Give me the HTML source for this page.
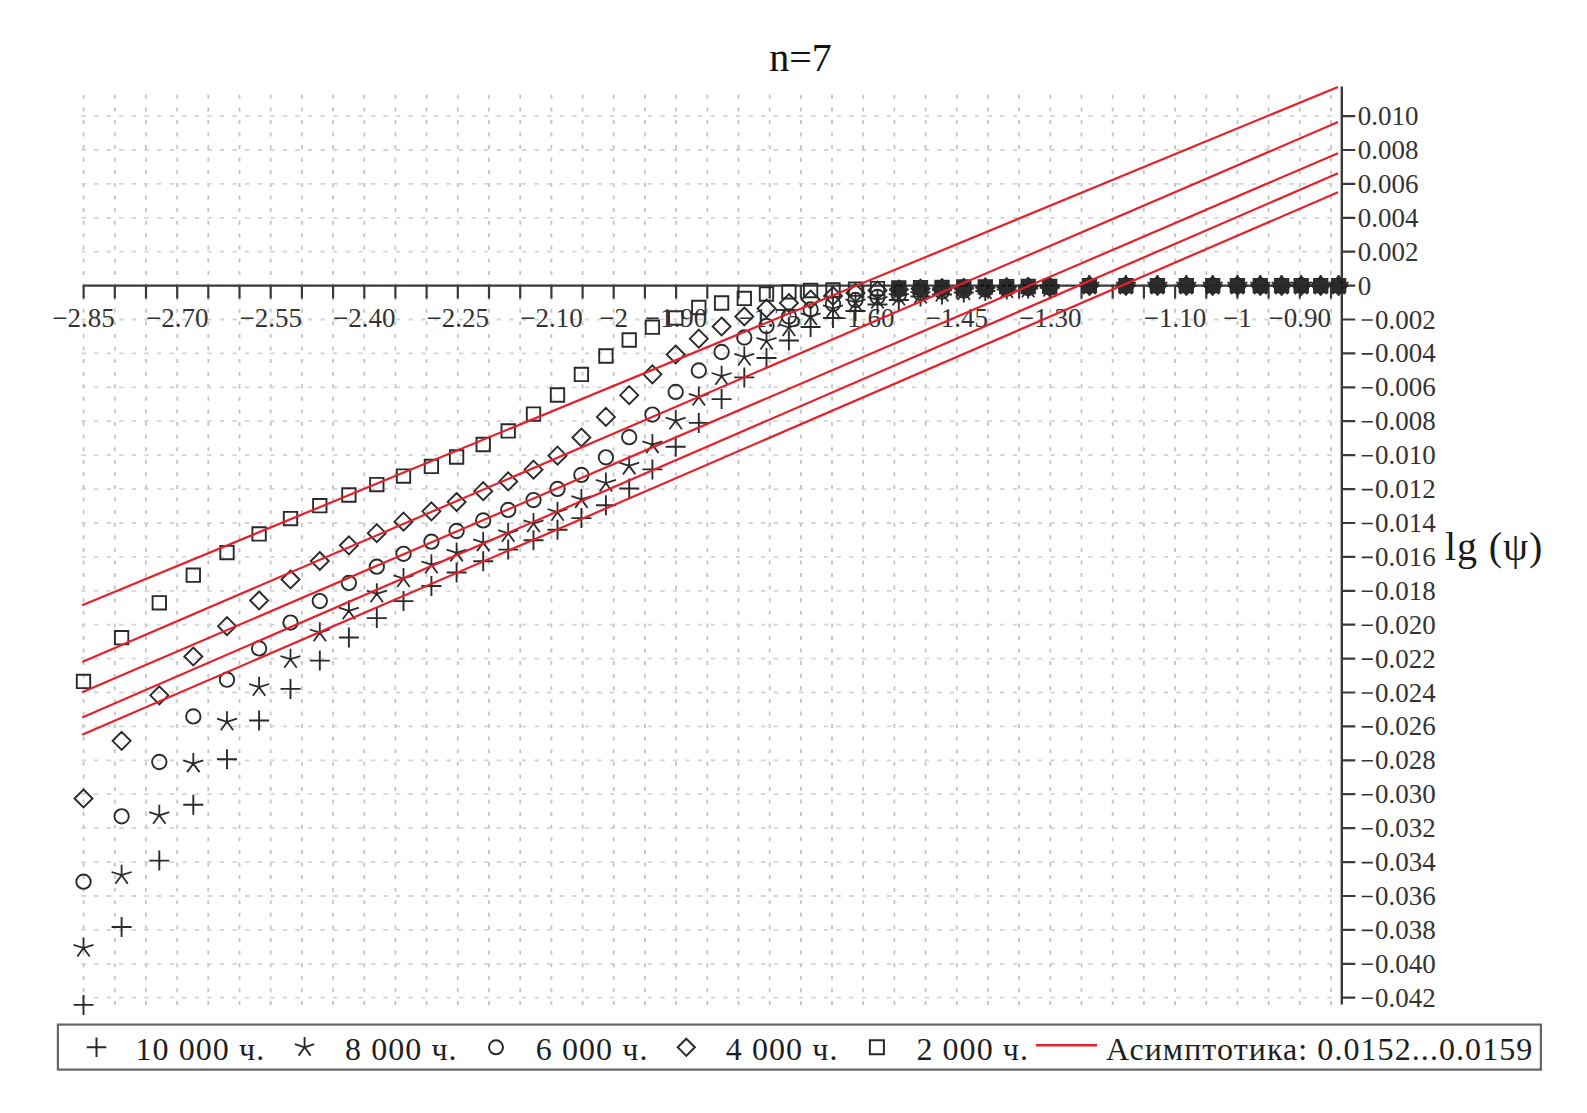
<!DOCTYPE html><html><head><meta charset="utf-8"><style>html,body{margin:0;padding:0;background:#fff;}svg{display:block;}text{font-family:"Liberation Serif",serif;}</style></head><body>
<svg width="1587" height="1113" viewBox="0 0 1587 1113">
<path d="M83.6 94.8v4M83.6 107.4v4M83.6 120.0v4M83.6 132.6v4M83.6 145.1v4M83.6 157.7v4M83.6 170.3v4M83.6 182.9v4M83.6 195.5v4M83.6 208.1v4M83.6 220.7v4M83.6 233.2v4M83.6 245.8v4M83.6 258.4v4M83.6 271.0v4M83.6 283.6v4M83.6 296.2v4M83.6 308.7v4M83.6 321.3v4M83.6 333.9v4M83.6 346.5v4M83.6 359.1v4M83.6 371.7v4M83.6 384.3v4M83.6 396.8v4M83.6 409.4v4M83.6 422.0v4M83.6 434.6v4M83.6 447.2v4M83.6 459.8v4M83.6 472.3v4M83.6 484.9v4M83.6 497.5v4M83.6 510.1v4M83.6 522.7v4M83.6 535.3v4M83.6 547.9v4M83.6 560.4v4M83.6 573.0v4M83.6 585.6v4M83.6 598.2v4M83.6 610.8v4M83.6 623.4v4M83.6 636.0v4M83.6 648.5v4M83.6 661.1v4M83.6 673.7v4M83.6 686.3v4M83.6 698.9v4M83.6 711.5v4M83.6 724.1v4M83.6 736.6v4M83.6 749.2v4M83.6 761.8v4M83.6 774.4v4M83.6 787.0v4M83.6 799.6v4M83.6 812.1v4M83.6 824.7v4M83.6 837.3v4M83.6 849.9v4M83.6 862.5v4M83.6 875.1v4M83.6 887.7v4M83.6 900.2v4M83.6 912.8v4M83.6 925.4v4M83.6 938.0v4M83.6 950.6v4M83.6 963.2v4M83.6 975.8v4M83.6 988.3v4M83.6 1000.9v4M114.8 94.8v4M114.8 107.4v4M114.8 120.0v4M114.8 132.6v4M114.8 145.1v4M114.8 157.7v4M114.8 170.3v4M114.8 182.9v4M114.8 195.5v4M114.8 208.1v4M114.8 220.7v4M114.8 233.2v4M114.8 245.8v4M114.8 258.4v4M114.8 271.0v4M114.8 283.6v4M114.8 296.2v4M114.8 308.7v4M114.8 321.3v4M114.8 333.9v4M114.8 346.5v4M114.8 359.1v4M114.8 371.7v4M114.8 384.3v4M114.8 396.8v4M114.8 409.4v4M114.8 422.0v4M114.8 434.6v4M114.8 447.2v4M114.8 459.8v4M114.8 472.3v4M114.8 484.9v4M114.8 497.5v4M114.8 510.1v4M114.8 522.7v4M114.8 535.3v4M114.8 547.9v4M114.8 560.4v4M114.8 573.0v4M114.8 585.6v4M114.8 598.2v4M114.8 610.8v4M114.8 623.4v4M114.8 636.0v4M114.8 648.5v4M114.8 661.1v4M114.8 673.7v4M114.8 686.3v4M114.8 698.9v4M114.8 711.5v4M114.8 724.1v4M114.8 736.6v4M114.8 749.2v4M114.8 761.8v4M114.8 774.4v4M114.8 787.0v4M114.8 799.6v4M114.8 812.1v4M114.8 824.7v4M114.8 837.3v4M114.8 849.9v4M114.8 862.5v4M114.8 875.1v4M114.8 887.7v4M114.8 900.2v4M114.8 912.8v4M114.8 925.4v4M114.8 938.0v4M114.8 950.6v4M114.8 963.2v4M114.8 975.8v4M114.8 988.3v4M114.8 1000.9v4M146.0 94.8v4M146.0 107.4v4M146.0 120.0v4M146.0 132.6v4M146.0 145.1v4M146.0 157.7v4M146.0 170.3v4M146.0 182.9v4M146.0 195.5v4M146.0 208.1v4M146.0 220.7v4M146.0 233.2v4M146.0 245.8v4M146.0 258.4v4M146.0 271.0v4M146.0 283.6v4M146.0 296.2v4M146.0 308.7v4M146.0 321.3v4M146.0 333.9v4M146.0 346.5v4M146.0 359.1v4M146.0 371.7v4M146.0 384.3v4M146.0 396.8v4M146.0 409.4v4M146.0 422.0v4M146.0 434.6v4M146.0 447.2v4M146.0 459.8v4M146.0 472.3v4M146.0 484.9v4M146.0 497.5v4M146.0 510.1v4M146.0 522.7v4M146.0 535.3v4M146.0 547.9v4M146.0 560.4v4M146.0 573.0v4M146.0 585.6v4M146.0 598.2v4M146.0 610.8v4M146.0 623.4v4M146.0 636.0v4M146.0 648.5v4M146.0 661.1v4M146.0 673.7v4M146.0 686.3v4M146.0 698.9v4M146.0 711.5v4M146.0 724.1v4M146.0 736.6v4M146.0 749.2v4M146.0 761.8v4M146.0 774.4v4M146.0 787.0v4M146.0 799.6v4M146.0 812.1v4M146.0 824.7v4M146.0 837.3v4M146.0 849.9v4M146.0 862.5v4M146.0 875.1v4M146.0 887.7v4M146.0 900.2v4M146.0 912.8v4M146.0 925.4v4M146.0 938.0v4M146.0 950.6v4M146.0 963.2v4M146.0 975.8v4M146.0 988.3v4M146.0 1000.9v4M177.2 94.8v4M177.2 107.4v4M177.2 120.0v4M177.2 132.6v4M177.2 145.1v4M177.2 157.7v4M177.2 170.3v4M177.2 182.9v4M177.2 195.5v4M177.2 208.1v4M177.2 220.7v4M177.2 233.2v4M177.2 245.8v4M177.2 258.4v4M177.2 271.0v4M177.2 283.6v4M177.2 296.2v4M177.2 308.7v4M177.2 321.3v4M177.2 333.9v4M177.2 346.5v4M177.2 359.1v4M177.2 371.7v4M177.2 384.3v4M177.2 396.8v4M177.2 409.4v4M177.2 422.0v4M177.2 434.6v4M177.2 447.2v4M177.2 459.8v4M177.2 472.3v4M177.2 484.9v4M177.2 497.5v4M177.2 510.1v4M177.2 522.7v4M177.2 535.3v4M177.2 547.9v4M177.2 560.4v4M177.2 573.0v4M177.2 585.6v4M177.2 598.2v4M177.2 610.8v4M177.2 623.4v4M177.2 636.0v4M177.2 648.5v4M177.2 661.1v4M177.2 673.7v4M177.2 686.3v4M177.2 698.9v4M177.2 711.5v4M177.2 724.1v4M177.2 736.6v4M177.2 749.2v4M177.2 761.8v4M177.2 774.4v4M177.2 787.0v4M177.2 799.6v4M177.2 812.1v4M177.2 824.7v4M177.2 837.3v4M177.2 849.9v4M177.2 862.5v4M177.2 875.1v4M177.2 887.7v4M177.2 900.2v4M177.2 912.8v4M177.2 925.4v4M177.2 938.0v4M177.2 950.6v4M177.2 963.2v4M177.2 975.8v4M177.2 988.3v4M177.2 1000.9v4M208.3 94.8v4M208.3 107.4v4M208.3 120.0v4M208.3 132.6v4M208.3 145.1v4M208.3 157.7v4M208.3 170.3v4M208.3 182.9v4M208.3 195.5v4M208.3 208.1v4M208.3 220.7v4M208.3 233.2v4M208.3 245.8v4M208.3 258.4v4M208.3 271.0v4M208.3 283.6v4M208.3 296.2v4M208.3 308.7v4M208.3 321.3v4M208.3 333.9v4M208.3 346.5v4M208.3 359.1v4M208.3 371.7v4M208.3 384.3v4M208.3 396.8v4M208.3 409.4v4M208.3 422.0v4M208.3 434.6v4M208.3 447.2v4M208.3 459.8v4M208.3 472.3v4M208.3 484.9v4M208.3 497.5v4M208.3 510.1v4M208.3 522.7v4M208.3 535.3v4M208.3 547.9v4M208.3 560.4v4M208.3 573.0v4M208.3 585.6v4M208.3 598.2v4M208.3 610.8v4M208.3 623.4v4M208.3 636.0v4M208.3 648.5v4M208.3 661.1v4M208.3 673.7v4M208.3 686.3v4M208.3 698.9v4M208.3 711.5v4M208.3 724.1v4M208.3 736.6v4M208.3 749.2v4M208.3 761.8v4M208.3 774.4v4M208.3 787.0v4M208.3 799.6v4M208.3 812.1v4M208.3 824.7v4M208.3 837.3v4M208.3 849.9v4M208.3 862.5v4M208.3 875.1v4M208.3 887.7v4M208.3 900.2v4M208.3 912.8v4M208.3 925.4v4M208.3 938.0v4M208.3 950.6v4M208.3 963.2v4M208.3 975.8v4M208.3 988.3v4M208.3 1000.9v4M239.5 94.8v4M239.5 107.4v4M239.5 120.0v4M239.5 132.6v4M239.5 145.1v4M239.5 157.7v4M239.5 170.3v4M239.5 182.9v4M239.5 195.5v4M239.5 208.1v4M239.5 220.7v4M239.5 233.2v4M239.5 245.8v4M239.5 258.4v4M239.5 271.0v4M239.5 283.6v4M239.5 296.2v4M239.5 308.7v4M239.5 321.3v4M239.5 333.9v4M239.5 346.5v4M239.5 359.1v4M239.5 371.7v4M239.5 384.3v4M239.5 396.8v4M239.5 409.4v4M239.5 422.0v4M239.5 434.6v4M239.5 447.2v4M239.5 459.8v4M239.5 472.3v4M239.5 484.9v4M239.5 497.5v4M239.5 510.1v4M239.5 522.7v4M239.5 535.3v4M239.5 547.9v4M239.5 560.4v4M239.5 573.0v4M239.5 585.6v4M239.5 598.2v4M239.5 610.8v4M239.5 623.4v4M239.5 636.0v4M239.5 648.5v4M239.5 661.1v4M239.5 673.7v4M239.5 686.3v4M239.5 698.9v4M239.5 711.5v4M239.5 724.1v4M239.5 736.6v4M239.5 749.2v4M239.5 761.8v4M239.5 774.4v4M239.5 787.0v4M239.5 799.6v4M239.5 812.1v4M239.5 824.7v4M239.5 837.3v4M239.5 849.9v4M239.5 862.5v4M239.5 875.1v4M239.5 887.7v4M239.5 900.2v4M239.5 912.8v4M239.5 925.4v4M239.5 938.0v4M239.5 950.6v4M239.5 963.2v4M239.5 975.8v4M239.5 988.3v4M239.5 1000.9v4M270.7 94.8v4M270.7 107.4v4M270.7 120.0v4M270.7 132.6v4M270.7 145.1v4M270.7 157.7v4M270.7 170.3v4M270.7 182.9v4M270.7 195.5v4M270.7 208.1v4M270.7 220.7v4M270.7 233.2v4M270.7 245.8v4M270.7 258.4v4M270.7 271.0v4M270.7 283.6v4M270.7 296.2v4M270.7 308.7v4M270.7 321.3v4M270.7 333.9v4M270.7 346.5v4M270.7 359.1v4M270.7 371.7v4M270.7 384.3v4M270.7 396.8v4M270.7 409.4v4M270.7 422.0v4M270.7 434.6v4M270.7 447.2v4M270.7 459.8v4M270.7 472.3v4M270.7 484.9v4M270.7 497.5v4M270.7 510.1v4M270.7 522.7v4M270.7 535.3v4M270.7 547.9v4M270.7 560.4v4M270.7 573.0v4M270.7 585.6v4M270.7 598.2v4M270.7 610.8v4M270.7 623.4v4M270.7 636.0v4M270.7 648.5v4M270.7 661.1v4M270.7 673.7v4M270.7 686.3v4M270.7 698.9v4M270.7 711.5v4M270.7 724.1v4M270.7 736.6v4M270.7 749.2v4M270.7 761.8v4M270.7 774.4v4M270.7 787.0v4M270.7 799.6v4M270.7 812.1v4M270.7 824.7v4M270.7 837.3v4M270.7 849.9v4M270.7 862.5v4M270.7 875.1v4M270.7 887.7v4M270.7 900.2v4M270.7 912.8v4M270.7 925.4v4M270.7 938.0v4M270.7 950.6v4M270.7 963.2v4M270.7 975.8v4M270.7 988.3v4M270.7 1000.9v4M301.9 94.8v4M301.9 107.4v4M301.9 120.0v4M301.9 132.6v4M301.9 145.1v4M301.9 157.7v4M301.9 170.3v4M301.9 182.9v4M301.9 195.5v4M301.9 208.1v4M301.9 220.7v4M301.9 233.2v4M301.9 245.8v4M301.9 258.4v4M301.9 271.0v4M301.9 283.6v4M301.9 296.2v4M301.9 308.7v4M301.9 321.3v4M301.9 333.9v4M301.9 346.5v4M301.9 359.1v4M301.9 371.7v4M301.9 384.3v4M301.9 396.8v4M301.9 409.4v4M301.9 422.0v4M301.9 434.6v4M301.9 447.2v4M301.9 459.8v4M301.9 472.3v4M301.9 484.9v4M301.9 497.5v4M301.9 510.1v4M301.9 522.7v4M301.9 535.3v4M301.9 547.9v4M301.9 560.4v4M301.9 573.0v4M301.9 585.6v4M301.9 598.2v4M301.9 610.8v4M301.9 623.4v4M301.9 636.0v4M301.9 648.5v4M301.9 661.1v4M301.9 673.7v4M301.9 686.3v4M301.9 698.9v4M301.9 711.5v4M301.9 724.1v4M301.9 736.6v4M301.9 749.2v4M301.9 761.8v4M301.9 774.4v4M301.9 787.0v4M301.9 799.6v4M301.9 812.1v4M301.9 824.7v4M301.9 837.3v4M301.9 849.9v4M301.9 862.5v4M301.9 875.1v4M301.9 887.7v4M301.9 900.2v4M301.9 912.8v4M301.9 925.4v4M301.9 938.0v4M301.9 950.6v4M301.9 963.2v4M301.9 975.8v4M301.9 988.3v4M301.9 1000.9v4M333.1 94.8v4M333.1 107.4v4M333.1 120.0v4M333.1 132.6v4M333.1 145.1v4M333.1 157.7v4M333.1 170.3v4M333.1 182.9v4M333.1 195.5v4M333.1 208.1v4M333.1 220.7v4M333.1 233.2v4M333.1 245.8v4M333.1 258.4v4M333.1 271.0v4M333.1 283.6v4M333.1 296.2v4M333.1 308.7v4M333.1 321.3v4M333.1 333.9v4M333.1 346.5v4M333.1 359.1v4M333.1 371.7v4M333.1 384.3v4M333.1 396.8v4M333.1 409.4v4M333.1 422.0v4M333.1 434.6v4M333.1 447.2v4M333.1 459.8v4M333.1 472.3v4M333.1 484.9v4M333.1 497.5v4M333.1 510.1v4M333.1 522.7v4M333.1 535.3v4M333.1 547.9v4M333.1 560.4v4M333.1 573.0v4M333.1 585.6v4M333.1 598.2v4M333.1 610.8v4M333.1 623.4v4M333.1 636.0v4M333.1 648.5v4M333.1 661.1v4M333.1 673.7v4M333.1 686.3v4M333.1 698.9v4M333.1 711.5v4M333.1 724.1v4M333.1 736.6v4M333.1 749.2v4M333.1 761.8v4M333.1 774.4v4M333.1 787.0v4M333.1 799.6v4M333.1 812.1v4M333.1 824.7v4M333.1 837.3v4M333.1 849.9v4M333.1 862.5v4M333.1 875.1v4M333.1 887.7v4M333.1 900.2v4M333.1 912.8v4M333.1 925.4v4M333.1 938.0v4M333.1 950.6v4M333.1 963.2v4M333.1 975.8v4M333.1 988.3v4M333.1 1000.9v4M364.3 94.8v4M364.3 107.4v4M364.3 120.0v4M364.3 132.6v4M364.3 145.1v4M364.3 157.7v4M364.3 170.3v4M364.3 182.9v4M364.3 195.5v4M364.3 208.1v4M364.3 220.7v4M364.3 233.2v4M364.3 245.8v4M364.3 258.4v4M364.3 271.0v4M364.3 283.6v4M364.3 296.2v4M364.3 308.7v4M364.3 321.3v4M364.3 333.9v4M364.3 346.5v4M364.3 359.1v4M364.3 371.7v4M364.3 384.3v4M364.3 396.8v4M364.3 409.4v4M364.3 422.0v4M364.3 434.6v4M364.3 447.2v4M364.3 459.8v4M364.3 472.3v4M364.3 484.9v4M364.3 497.5v4M364.3 510.1v4M364.3 522.7v4M364.3 535.3v4M364.3 547.9v4M364.3 560.4v4M364.3 573.0v4M364.3 585.6v4M364.3 598.2v4M364.3 610.8v4M364.3 623.4v4M364.3 636.0v4M364.3 648.5v4M364.3 661.1v4M364.3 673.7v4M364.3 686.3v4M364.3 698.9v4M364.3 711.5v4M364.3 724.1v4M364.3 736.6v4M364.3 749.2v4M364.3 761.8v4M364.3 774.4v4M364.3 787.0v4M364.3 799.6v4M364.3 812.1v4M364.3 824.7v4M364.3 837.3v4M364.3 849.9v4M364.3 862.5v4M364.3 875.1v4M364.3 887.7v4M364.3 900.2v4M364.3 912.8v4M364.3 925.4v4M364.3 938.0v4M364.3 950.6v4M364.3 963.2v4M364.3 975.8v4M364.3 988.3v4M364.3 1000.9v4M395.4 94.8v4M395.4 107.4v4M395.4 120.0v4M395.4 132.6v4M395.4 145.1v4M395.4 157.7v4M395.4 170.3v4M395.4 182.9v4M395.4 195.5v4M395.4 208.1v4M395.4 220.7v4M395.4 233.2v4M395.4 245.8v4M395.4 258.4v4M395.4 271.0v4M395.4 283.6v4M395.4 296.2v4M395.4 308.7v4M395.4 321.3v4M395.4 333.9v4M395.4 346.5v4M395.4 359.1v4M395.4 371.7v4M395.4 384.3v4M395.4 396.8v4M395.4 409.4v4M395.4 422.0v4M395.4 434.6v4M395.4 447.2v4M395.4 459.8v4M395.4 472.3v4M395.4 484.9v4M395.4 497.5v4M395.4 510.1v4M395.4 522.7v4M395.4 535.3v4M395.4 547.9v4M395.4 560.4v4M395.4 573.0v4M395.4 585.6v4M395.4 598.2v4M395.4 610.8v4M395.4 623.4v4M395.4 636.0v4M395.4 648.5v4M395.4 661.1v4M395.4 673.7v4M395.4 686.3v4M395.4 698.9v4M395.4 711.5v4M395.4 724.1v4M395.4 736.6v4M395.4 749.2v4M395.4 761.8v4M395.4 774.4v4M395.4 787.0v4M395.4 799.6v4M395.4 812.1v4M395.4 824.7v4M395.4 837.3v4M395.4 849.9v4M395.4 862.5v4M395.4 875.1v4M395.4 887.7v4M395.4 900.2v4M395.4 912.8v4M395.4 925.4v4M395.4 938.0v4M395.4 950.6v4M395.4 963.2v4M395.4 975.8v4M395.4 988.3v4M395.4 1000.9v4M426.6 94.8v4M426.6 107.4v4M426.6 120.0v4M426.6 132.6v4M426.6 145.1v4M426.6 157.7v4M426.6 170.3v4M426.6 182.9v4M426.6 195.5v4M426.6 208.1v4M426.6 220.7v4M426.6 233.2v4M426.6 245.8v4M426.6 258.4v4M426.6 271.0v4M426.6 283.6v4M426.6 296.2v4M426.6 308.7v4M426.6 321.3v4M426.6 333.9v4M426.6 346.5v4M426.6 359.1v4M426.6 371.7v4M426.6 384.3v4M426.6 396.8v4M426.6 409.4v4M426.6 422.0v4M426.6 434.6v4M426.6 447.2v4M426.6 459.8v4M426.6 472.3v4M426.6 484.9v4M426.6 497.5v4M426.6 510.1v4M426.6 522.7v4M426.6 535.3v4M426.6 547.9v4M426.6 560.4v4M426.6 573.0v4M426.6 585.6v4M426.6 598.2v4M426.6 610.8v4M426.6 623.4v4M426.6 636.0v4M426.6 648.5v4M426.6 661.1v4M426.6 673.7v4M426.6 686.3v4M426.6 698.9v4M426.6 711.5v4M426.6 724.1v4M426.6 736.6v4M426.6 749.2v4M426.6 761.8v4M426.6 774.4v4M426.6 787.0v4M426.6 799.6v4M426.6 812.1v4M426.6 824.7v4M426.6 837.3v4M426.6 849.9v4M426.6 862.5v4M426.6 875.1v4M426.6 887.7v4M426.6 900.2v4M426.6 912.8v4M426.6 925.4v4M426.6 938.0v4M426.6 950.6v4M426.6 963.2v4M426.6 975.8v4M426.6 988.3v4M426.6 1000.9v4M457.8 94.8v4M457.8 107.4v4M457.8 120.0v4M457.8 132.6v4M457.8 145.1v4M457.8 157.7v4M457.8 170.3v4M457.8 182.9v4M457.8 195.5v4M457.8 208.1v4M457.8 220.7v4M457.8 233.2v4M457.8 245.8v4M457.8 258.4v4M457.8 271.0v4M457.8 283.6v4M457.8 296.2v4M457.8 308.7v4M457.8 321.3v4M457.8 333.9v4M457.8 346.5v4M457.8 359.1v4M457.8 371.7v4M457.8 384.3v4M457.8 396.8v4M457.8 409.4v4M457.8 422.0v4M457.8 434.6v4M457.8 447.2v4M457.8 459.8v4M457.8 472.3v4M457.8 484.9v4M457.8 497.5v4M457.8 510.1v4M457.8 522.7v4M457.8 535.3v4M457.8 547.9v4M457.8 560.4v4M457.8 573.0v4M457.8 585.6v4M457.8 598.2v4M457.8 610.8v4M457.8 623.4v4M457.8 636.0v4M457.8 648.5v4M457.8 661.1v4M457.8 673.7v4M457.8 686.3v4M457.8 698.9v4M457.8 711.5v4M457.8 724.1v4M457.8 736.6v4M457.8 749.2v4M457.8 761.8v4M457.8 774.4v4M457.8 787.0v4M457.8 799.6v4M457.8 812.1v4M457.8 824.7v4M457.8 837.3v4M457.8 849.9v4M457.8 862.5v4M457.8 875.1v4M457.8 887.7v4M457.8 900.2v4M457.8 912.8v4M457.8 925.4v4M457.8 938.0v4M457.8 950.6v4M457.8 963.2v4M457.8 975.8v4M457.8 988.3v4M457.8 1000.9v4M489.0 94.8v4M489.0 107.4v4M489.0 120.0v4M489.0 132.6v4M489.0 145.1v4M489.0 157.7v4M489.0 170.3v4M489.0 182.9v4M489.0 195.5v4M489.0 208.1v4M489.0 220.7v4M489.0 233.2v4M489.0 245.8v4M489.0 258.4v4M489.0 271.0v4M489.0 283.6v4M489.0 296.2v4M489.0 308.7v4M489.0 321.3v4M489.0 333.9v4M489.0 346.5v4M489.0 359.1v4M489.0 371.7v4M489.0 384.3v4M489.0 396.8v4M489.0 409.4v4M489.0 422.0v4M489.0 434.6v4M489.0 447.2v4M489.0 459.8v4M489.0 472.3v4M489.0 484.9v4M489.0 497.5v4M489.0 510.1v4M489.0 522.7v4M489.0 535.3v4M489.0 547.9v4M489.0 560.4v4M489.0 573.0v4M489.0 585.6v4M489.0 598.2v4M489.0 610.8v4M489.0 623.4v4M489.0 636.0v4M489.0 648.5v4M489.0 661.1v4M489.0 673.7v4M489.0 686.3v4M489.0 698.9v4M489.0 711.5v4M489.0 724.1v4M489.0 736.6v4M489.0 749.2v4M489.0 761.8v4M489.0 774.4v4M489.0 787.0v4M489.0 799.6v4M489.0 812.1v4M489.0 824.7v4M489.0 837.3v4M489.0 849.9v4M489.0 862.5v4M489.0 875.1v4M489.0 887.7v4M489.0 900.2v4M489.0 912.8v4M489.0 925.4v4M489.0 938.0v4M489.0 950.6v4M489.0 963.2v4M489.0 975.8v4M489.0 988.3v4M489.0 1000.9v4M520.2 94.8v4M520.2 107.4v4M520.2 120.0v4M520.2 132.6v4M520.2 145.1v4M520.2 157.7v4M520.2 170.3v4M520.2 182.9v4M520.2 195.5v4M520.2 208.1v4M520.2 220.7v4M520.2 233.2v4M520.2 245.8v4M520.2 258.4v4M520.2 271.0v4M520.2 283.6v4M520.2 296.2v4M520.2 308.7v4M520.2 321.3v4M520.2 333.9v4M520.2 346.5v4M520.2 359.1v4M520.2 371.7v4M520.2 384.3v4M520.2 396.8v4M520.2 409.4v4M520.2 422.0v4M520.2 434.6v4M520.2 447.2v4M520.2 459.8v4M520.2 472.3v4M520.2 484.9v4M520.2 497.5v4M520.2 510.1v4M520.2 522.7v4M520.2 535.3v4M520.2 547.9v4M520.2 560.4v4M520.2 573.0v4M520.2 585.6v4M520.2 598.2v4M520.2 610.8v4M520.2 623.4v4M520.2 636.0v4M520.2 648.5v4M520.2 661.1v4M520.2 673.7v4M520.2 686.3v4M520.2 698.9v4M520.2 711.5v4M520.2 724.1v4M520.2 736.6v4M520.2 749.2v4M520.2 761.8v4M520.2 774.4v4M520.2 787.0v4M520.2 799.6v4M520.2 812.1v4M520.2 824.7v4M520.2 837.3v4M520.2 849.9v4M520.2 862.5v4M520.2 875.1v4M520.2 887.7v4M520.2 900.2v4M520.2 912.8v4M520.2 925.4v4M520.2 938.0v4M520.2 950.6v4M520.2 963.2v4M520.2 975.8v4M520.2 988.3v4M520.2 1000.9v4M551.4 94.8v4M551.4 107.4v4M551.4 120.0v4M551.4 132.6v4M551.4 145.1v4M551.4 157.7v4M551.4 170.3v4M551.4 182.9v4M551.4 195.5v4M551.4 208.1v4M551.4 220.7v4M551.4 233.2v4M551.4 245.8v4M551.4 258.4v4M551.4 271.0v4M551.4 283.6v4M551.4 296.2v4M551.4 308.7v4M551.4 321.3v4M551.4 333.9v4M551.4 346.5v4M551.4 359.1v4M551.4 371.7v4M551.4 384.3v4M551.4 396.8v4M551.4 409.4v4M551.4 422.0v4M551.4 434.6v4M551.4 447.2v4M551.4 459.8v4M551.4 472.3v4M551.4 484.9v4M551.4 497.5v4M551.4 510.1v4M551.4 522.7v4M551.4 535.3v4M551.4 547.9v4M551.4 560.4v4M551.4 573.0v4M551.4 585.6v4M551.4 598.2v4M551.4 610.8v4M551.4 623.4v4M551.4 636.0v4M551.4 648.5v4M551.4 661.1v4M551.4 673.7v4M551.4 686.3v4M551.4 698.9v4M551.4 711.5v4M551.4 724.1v4M551.4 736.6v4M551.4 749.2v4M551.4 761.8v4M551.4 774.4v4M551.4 787.0v4M551.4 799.6v4M551.4 812.1v4M551.4 824.7v4M551.4 837.3v4M551.4 849.9v4M551.4 862.5v4M551.4 875.1v4M551.4 887.7v4M551.4 900.2v4M551.4 912.8v4M551.4 925.4v4M551.4 938.0v4M551.4 950.6v4M551.4 963.2v4M551.4 975.8v4M551.4 988.3v4M551.4 1000.9v4M582.6 94.8v4M582.6 107.4v4M582.6 120.0v4M582.6 132.6v4M582.6 145.1v4M582.6 157.7v4M582.6 170.3v4M582.6 182.9v4M582.6 195.5v4M582.6 208.1v4M582.6 220.7v4M582.6 233.2v4M582.6 245.8v4M582.6 258.4v4M582.6 271.0v4M582.6 283.6v4M582.6 296.2v4M582.6 308.7v4M582.6 321.3v4M582.6 333.9v4M582.6 346.5v4M582.6 359.1v4M582.6 371.7v4M582.6 384.3v4M582.6 396.8v4M582.6 409.4v4M582.6 422.0v4M582.6 434.6v4M582.6 447.2v4M582.6 459.8v4M582.6 472.3v4M582.6 484.9v4M582.6 497.5v4M582.6 510.1v4M582.6 522.7v4M582.6 535.3v4M582.6 547.9v4M582.6 560.4v4M582.6 573.0v4M582.6 585.6v4M582.6 598.2v4M582.6 610.8v4M582.6 623.4v4M582.6 636.0v4M582.6 648.5v4M582.6 661.1v4M582.6 673.7v4M582.6 686.3v4M582.6 698.9v4M582.6 711.5v4M582.6 724.1v4M582.6 736.6v4M582.6 749.2v4M582.6 761.8v4M582.6 774.4v4M582.6 787.0v4M582.6 799.6v4M582.6 812.1v4M582.6 824.7v4M582.6 837.3v4M582.6 849.9v4M582.6 862.5v4M582.6 875.1v4M582.6 887.7v4M582.6 900.2v4M582.6 912.8v4M582.6 925.4v4M582.6 938.0v4M582.6 950.6v4M582.6 963.2v4M582.6 975.8v4M582.6 988.3v4M582.6 1000.9v4M613.7 94.8v4M613.7 107.4v4M613.7 120.0v4M613.7 132.6v4M613.7 145.1v4M613.7 157.7v4M613.7 170.3v4M613.7 182.9v4M613.7 195.5v4M613.7 208.1v4M613.7 220.7v4M613.7 233.2v4M613.7 245.8v4M613.7 258.4v4M613.7 271.0v4M613.7 283.6v4M613.7 296.2v4M613.7 308.7v4M613.7 321.3v4M613.7 333.9v4M613.7 346.5v4M613.7 359.1v4M613.7 371.7v4M613.7 384.3v4M613.7 396.8v4M613.7 409.4v4M613.7 422.0v4M613.7 434.6v4M613.7 447.2v4M613.7 459.8v4M613.7 472.3v4M613.7 484.9v4M613.7 497.5v4M613.7 510.1v4M613.7 522.7v4M613.7 535.3v4M613.7 547.9v4M613.7 560.4v4M613.7 573.0v4M613.7 585.6v4M613.7 598.2v4M613.7 610.8v4M613.7 623.4v4M613.7 636.0v4M613.7 648.5v4M613.7 661.1v4M613.7 673.7v4M613.7 686.3v4M613.7 698.9v4M613.7 711.5v4M613.7 724.1v4M613.7 736.6v4M613.7 749.2v4M613.7 761.8v4M613.7 774.4v4M613.7 787.0v4M613.7 799.6v4M613.7 812.1v4M613.7 824.7v4M613.7 837.3v4M613.7 849.9v4M613.7 862.5v4M613.7 875.1v4M613.7 887.7v4M613.7 900.2v4M613.7 912.8v4M613.7 925.4v4M613.7 938.0v4M613.7 950.6v4M613.7 963.2v4M613.7 975.8v4M613.7 988.3v4M613.7 1000.9v4M644.9 94.8v4M644.9 107.4v4M644.9 120.0v4M644.9 132.6v4M644.9 145.1v4M644.9 157.7v4M644.9 170.3v4M644.9 182.9v4M644.9 195.5v4M644.9 208.1v4M644.9 220.7v4M644.9 233.2v4M644.9 245.8v4M644.9 258.4v4M644.9 271.0v4M644.9 283.6v4M644.9 296.2v4M644.9 308.7v4M644.9 321.3v4M644.9 333.9v4M644.9 346.5v4M644.9 359.1v4M644.9 371.7v4M644.9 384.3v4M644.9 396.8v4M644.9 409.4v4M644.9 422.0v4M644.9 434.6v4M644.9 447.2v4M644.9 459.8v4M644.9 472.3v4M644.9 484.9v4M644.9 497.5v4M644.9 510.1v4M644.9 522.7v4M644.9 535.3v4M644.9 547.9v4M644.9 560.4v4M644.9 573.0v4M644.9 585.6v4M644.9 598.2v4M644.9 610.8v4M644.9 623.4v4M644.9 636.0v4M644.9 648.5v4M644.9 661.1v4M644.9 673.7v4M644.9 686.3v4M644.9 698.9v4M644.9 711.5v4M644.9 724.1v4M644.9 736.6v4M644.9 749.2v4M644.9 761.8v4M644.9 774.4v4M644.9 787.0v4M644.9 799.6v4M644.9 812.1v4M644.9 824.7v4M644.9 837.3v4M644.9 849.9v4M644.9 862.5v4M644.9 875.1v4M644.9 887.7v4M644.9 900.2v4M644.9 912.8v4M644.9 925.4v4M644.9 938.0v4M644.9 950.6v4M644.9 963.2v4M644.9 975.8v4M644.9 988.3v4M644.9 1000.9v4M676.1 94.8v4M676.1 107.4v4M676.1 120.0v4M676.1 132.6v4M676.1 145.1v4M676.1 157.7v4M676.1 170.3v4M676.1 182.9v4M676.1 195.5v4M676.1 208.1v4M676.1 220.7v4M676.1 233.2v4M676.1 245.8v4M676.1 258.4v4M676.1 271.0v4M676.1 283.6v4M676.1 296.2v4M676.1 308.7v4M676.1 321.3v4M676.1 333.9v4M676.1 346.5v4M676.1 359.1v4M676.1 371.7v4M676.1 384.3v4M676.1 396.8v4M676.1 409.4v4M676.1 422.0v4M676.1 434.6v4M676.1 447.2v4M676.1 459.8v4M676.1 472.3v4M676.1 484.9v4M676.1 497.5v4M676.1 510.1v4M676.1 522.7v4M676.1 535.3v4M676.1 547.9v4M676.1 560.4v4M676.1 573.0v4M676.1 585.6v4M676.1 598.2v4M676.1 610.8v4M676.1 623.4v4M676.1 636.0v4M676.1 648.5v4M676.1 661.1v4M676.1 673.7v4M676.1 686.3v4M676.1 698.9v4M676.1 711.5v4M676.1 724.1v4M676.1 736.6v4M676.1 749.2v4M676.1 761.8v4M676.1 774.4v4M676.1 787.0v4M676.1 799.6v4M676.1 812.1v4M676.1 824.7v4M676.1 837.3v4M676.1 849.9v4M676.1 862.5v4M676.1 875.1v4M676.1 887.7v4M676.1 900.2v4M676.1 912.8v4M676.1 925.4v4M676.1 938.0v4M676.1 950.6v4M676.1 963.2v4M676.1 975.8v4M676.1 988.3v4M676.1 1000.9v4M707.3 94.8v4M707.3 107.4v4M707.3 120.0v4M707.3 132.6v4M707.3 145.1v4M707.3 157.7v4M707.3 170.3v4M707.3 182.9v4M707.3 195.5v4M707.3 208.1v4M707.3 220.7v4M707.3 233.2v4M707.3 245.8v4M707.3 258.4v4M707.3 271.0v4M707.3 283.6v4M707.3 296.2v4M707.3 308.7v4M707.3 321.3v4M707.3 333.9v4M707.3 346.5v4M707.3 359.1v4M707.3 371.7v4M707.3 384.3v4M707.3 396.8v4M707.3 409.4v4M707.3 422.0v4M707.3 434.6v4M707.3 447.2v4M707.3 459.8v4M707.3 472.3v4M707.3 484.9v4M707.3 497.5v4M707.3 510.1v4M707.3 522.7v4M707.3 535.3v4M707.3 547.9v4M707.3 560.4v4M707.3 573.0v4M707.3 585.6v4M707.3 598.2v4M707.3 610.8v4M707.3 623.4v4M707.3 636.0v4M707.3 648.5v4M707.3 661.1v4M707.3 673.7v4M707.3 686.3v4M707.3 698.9v4M707.3 711.5v4M707.3 724.1v4M707.3 736.6v4M707.3 749.2v4M707.3 761.8v4M707.3 774.4v4M707.3 787.0v4M707.3 799.6v4M707.3 812.1v4M707.3 824.7v4M707.3 837.3v4M707.3 849.9v4M707.3 862.5v4M707.3 875.1v4M707.3 887.7v4M707.3 900.2v4M707.3 912.8v4M707.3 925.4v4M707.3 938.0v4M707.3 950.6v4M707.3 963.2v4M707.3 975.8v4M707.3 988.3v4M707.3 1000.9v4M738.5 94.8v4M738.5 107.4v4M738.5 120.0v4M738.5 132.6v4M738.5 145.1v4M738.5 157.7v4M738.5 170.3v4M738.5 182.9v4M738.5 195.5v4M738.5 208.1v4M738.5 220.7v4M738.5 233.2v4M738.5 245.8v4M738.5 258.4v4M738.5 271.0v4M738.5 283.6v4M738.5 296.2v4M738.5 308.7v4M738.5 321.3v4M738.5 333.9v4M738.5 346.5v4M738.5 359.1v4M738.5 371.7v4M738.5 384.3v4M738.5 396.8v4M738.5 409.4v4M738.5 422.0v4M738.5 434.6v4M738.5 447.2v4M738.5 459.8v4M738.5 472.3v4M738.5 484.9v4M738.5 497.5v4M738.5 510.1v4M738.5 522.7v4M738.5 535.3v4M738.5 547.9v4M738.5 560.4v4M738.5 573.0v4M738.5 585.6v4M738.5 598.2v4M738.5 610.8v4M738.5 623.4v4M738.5 636.0v4M738.5 648.5v4M738.5 661.1v4M738.5 673.7v4M738.5 686.3v4M738.5 698.9v4M738.5 711.5v4M738.5 724.1v4M738.5 736.6v4M738.5 749.2v4M738.5 761.8v4M738.5 774.4v4M738.5 787.0v4M738.5 799.6v4M738.5 812.1v4M738.5 824.7v4M738.5 837.3v4M738.5 849.9v4M738.5 862.5v4M738.5 875.1v4M738.5 887.7v4M738.5 900.2v4M738.5 912.8v4M738.5 925.4v4M738.5 938.0v4M738.5 950.6v4M738.5 963.2v4M738.5 975.8v4M738.5 988.3v4M738.5 1000.9v4M769.7 94.8v4M769.7 107.4v4M769.7 120.0v4M769.7 132.6v4M769.7 145.1v4M769.7 157.7v4M769.7 170.3v4M769.7 182.9v4M769.7 195.5v4M769.7 208.1v4M769.7 220.7v4M769.7 233.2v4M769.7 245.8v4M769.7 258.4v4M769.7 271.0v4M769.7 283.6v4M769.7 296.2v4M769.7 308.7v4M769.7 321.3v4M769.7 333.9v4M769.7 346.5v4M769.7 359.1v4M769.7 371.7v4M769.7 384.3v4M769.7 396.8v4M769.7 409.4v4M769.7 422.0v4M769.7 434.6v4M769.7 447.2v4M769.7 459.8v4M769.7 472.3v4M769.7 484.9v4M769.7 497.5v4M769.7 510.1v4M769.7 522.7v4M769.7 535.3v4M769.7 547.9v4M769.7 560.4v4M769.7 573.0v4M769.7 585.6v4M769.7 598.2v4M769.7 610.8v4M769.7 623.4v4M769.7 636.0v4M769.7 648.5v4M769.7 661.1v4M769.7 673.7v4M769.7 686.3v4M769.7 698.9v4M769.7 711.5v4M769.7 724.1v4M769.7 736.6v4M769.7 749.2v4M769.7 761.8v4M769.7 774.4v4M769.7 787.0v4M769.7 799.6v4M769.7 812.1v4M769.7 824.7v4M769.7 837.3v4M769.7 849.9v4M769.7 862.5v4M769.7 875.1v4M769.7 887.7v4M769.7 900.2v4M769.7 912.8v4M769.7 925.4v4M769.7 938.0v4M769.7 950.6v4M769.7 963.2v4M769.7 975.8v4M769.7 988.3v4M769.7 1000.9v4M800.9 94.8v4M800.9 107.4v4M800.9 120.0v4M800.9 132.6v4M800.9 145.1v4M800.9 157.7v4M800.9 170.3v4M800.9 182.9v4M800.9 195.5v4M800.9 208.1v4M800.9 220.7v4M800.9 233.2v4M800.9 245.8v4M800.9 258.4v4M800.9 271.0v4M800.9 283.6v4M800.9 296.2v4M800.9 308.7v4M800.9 321.3v4M800.9 333.9v4M800.9 346.5v4M800.9 359.1v4M800.9 371.7v4M800.9 384.3v4M800.9 396.8v4M800.9 409.4v4M800.9 422.0v4M800.9 434.6v4M800.9 447.2v4M800.9 459.8v4M800.9 472.3v4M800.9 484.9v4M800.9 497.5v4M800.9 510.1v4M800.9 522.7v4M800.9 535.3v4M800.9 547.9v4M800.9 560.4v4M800.9 573.0v4M800.9 585.6v4M800.9 598.2v4M800.9 610.8v4M800.9 623.4v4M800.9 636.0v4M800.9 648.5v4M800.9 661.1v4M800.9 673.7v4M800.9 686.3v4M800.9 698.9v4M800.9 711.5v4M800.9 724.1v4M800.9 736.6v4M800.9 749.2v4M800.9 761.8v4M800.9 774.4v4M800.9 787.0v4M800.9 799.6v4M800.9 812.1v4M800.9 824.7v4M800.9 837.3v4M800.9 849.9v4M800.9 862.5v4M800.9 875.1v4M800.9 887.7v4M800.9 900.2v4M800.9 912.8v4M800.9 925.4v4M800.9 938.0v4M800.9 950.6v4M800.9 963.2v4M800.9 975.8v4M800.9 988.3v4M800.9 1000.9v4M832.0 94.8v4M832.0 107.4v4M832.0 120.0v4M832.0 132.6v4M832.0 145.1v4M832.0 157.7v4M832.0 170.3v4M832.0 182.9v4M832.0 195.5v4M832.0 208.1v4M832.0 220.7v4M832.0 233.2v4M832.0 245.8v4M832.0 258.4v4M832.0 271.0v4M832.0 283.6v4M832.0 296.2v4M832.0 308.7v4M832.0 321.3v4M832.0 333.9v4M832.0 346.5v4M832.0 359.1v4M832.0 371.7v4M832.0 384.3v4M832.0 396.8v4M832.0 409.4v4M832.0 422.0v4M832.0 434.6v4M832.0 447.2v4M832.0 459.8v4M832.0 472.3v4M832.0 484.9v4M832.0 497.5v4M832.0 510.1v4M832.0 522.7v4M832.0 535.3v4M832.0 547.9v4M832.0 560.4v4M832.0 573.0v4M832.0 585.6v4M832.0 598.2v4M832.0 610.8v4M832.0 623.4v4M832.0 636.0v4M832.0 648.5v4M832.0 661.1v4M832.0 673.7v4M832.0 686.3v4M832.0 698.9v4M832.0 711.5v4M832.0 724.1v4M832.0 736.6v4M832.0 749.2v4M832.0 761.8v4M832.0 774.4v4M832.0 787.0v4M832.0 799.6v4M832.0 812.1v4M832.0 824.7v4M832.0 837.3v4M832.0 849.9v4M832.0 862.5v4M832.0 875.1v4M832.0 887.7v4M832.0 900.2v4M832.0 912.8v4M832.0 925.4v4M832.0 938.0v4M832.0 950.6v4M832.0 963.2v4M832.0 975.8v4M832.0 988.3v4M832.0 1000.9v4M863.2 94.8v4M863.2 107.4v4M863.2 120.0v4M863.2 132.6v4M863.2 145.1v4M863.2 157.7v4M863.2 170.3v4M863.2 182.9v4M863.2 195.5v4M863.2 208.1v4M863.2 220.7v4M863.2 233.2v4M863.2 245.8v4M863.2 258.4v4M863.2 271.0v4M863.2 283.6v4M863.2 296.2v4M863.2 308.7v4M863.2 321.3v4M863.2 333.9v4M863.2 346.5v4M863.2 359.1v4M863.2 371.7v4M863.2 384.3v4M863.2 396.8v4M863.2 409.4v4M863.2 422.0v4M863.2 434.6v4M863.2 447.2v4M863.2 459.8v4M863.2 472.3v4M863.2 484.9v4M863.2 497.5v4M863.2 510.1v4M863.2 522.7v4M863.2 535.3v4M863.2 547.9v4M863.2 560.4v4M863.2 573.0v4M863.2 585.6v4M863.2 598.2v4M863.2 610.8v4M863.2 623.4v4M863.2 636.0v4M863.2 648.5v4M863.2 661.1v4M863.2 673.7v4M863.2 686.3v4M863.2 698.9v4M863.2 711.5v4M863.2 724.1v4M863.2 736.6v4M863.2 749.2v4M863.2 761.8v4M863.2 774.4v4M863.2 787.0v4M863.2 799.6v4M863.2 812.1v4M863.2 824.7v4M863.2 837.3v4M863.2 849.9v4M863.2 862.5v4M863.2 875.1v4M863.2 887.7v4M863.2 900.2v4M863.2 912.8v4M863.2 925.4v4M863.2 938.0v4M863.2 950.6v4M863.2 963.2v4M863.2 975.8v4M863.2 988.3v4M863.2 1000.9v4M894.4 94.8v4M894.4 107.4v4M894.4 120.0v4M894.4 132.6v4M894.4 145.1v4M894.4 157.7v4M894.4 170.3v4M894.4 182.9v4M894.4 195.5v4M894.4 208.1v4M894.4 220.7v4M894.4 233.2v4M894.4 245.8v4M894.4 258.4v4M894.4 271.0v4M894.4 283.6v4M894.4 296.2v4M894.4 308.7v4M894.4 321.3v4M894.4 333.9v4M894.4 346.5v4M894.4 359.1v4M894.4 371.7v4M894.4 384.3v4M894.4 396.8v4M894.4 409.4v4M894.4 422.0v4M894.4 434.6v4M894.4 447.2v4M894.4 459.8v4M894.4 472.3v4M894.4 484.9v4M894.4 497.5v4M894.4 510.1v4M894.4 522.7v4M894.4 535.3v4M894.4 547.9v4M894.4 560.4v4M894.4 573.0v4M894.4 585.6v4M894.4 598.2v4M894.4 610.8v4M894.4 623.4v4M894.4 636.0v4M894.4 648.5v4M894.4 661.1v4M894.4 673.7v4M894.4 686.3v4M894.4 698.9v4M894.4 711.5v4M894.4 724.1v4M894.4 736.6v4M894.4 749.2v4M894.4 761.8v4M894.4 774.4v4M894.4 787.0v4M894.4 799.6v4M894.4 812.1v4M894.4 824.7v4M894.4 837.3v4M894.4 849.9v4M894.4 862.5v4M894.4 875.1v4M894.4 887.7v4M894.4 900.2v4M894.4 912.8v4M894.4 925.4v4M894.4 938.0v4M894.4 950.6v4M894.4 963.2v4M894.4 975.8v4M894.4 988.3v4M894.4 1000.9v4M925.6 94.8v4M925.6 107.4v4M925.6 120.0v4M925.6 132.6v4M925.6 145.1v4M925.6 157.7v4M925.6 170.3v4M925.6 182.9v4M925.6 195.5v4M925.6 208.1v4M925.6 220.7v4M925.6 233.2v4M925.6 245.8v4M925.6 258.4v4M925.6 271.0v4M925.6 283.6v4M925.6 296.2v4M925.6 308.7v4M925.6 321.3v4M925.6 333.9v4M925.6 346.5v4M925.6 359.1v4M925.6 371.7v4M925.6 384.3v4M925.6 396.8v4M925.6 409.4v4M925.6 422.0v4M925.6 434.6v4M925.6 447.2v4M925.6 459.8v4M925.6 472.3v4M925.6 484.9v4M925.6 497.5v4M925.6 510.1v4M925.6 522.7v4M925.6 535.3v4M925.6 547.9v4M925.6 560.4v4M925.6 573.0v4M925.6 585.6v4M925.6 598.2v4M925.6 610.8v4M925.6 623.4v4M925.6 636.0v4M925.6 648.5v4M925.6 661.1v4M925.6 673.7v4M925.6 686.3v4M925.6 698.9v4M925.6 711.5v4M925.6 724.1v4M925.6 736.6v4M925.6 749.2v4M925.6 761.8v4M925.6 774.4v4M925.6 787.0v4M925.6 799.6v4M925.6 812.1v4M925.6 824.7v4M925.6 837.3v4M925.6 849.9v4M925.6 862.5v4M925.6 875.1v4M925.6 887.7v4M925.6 900.2v4M925.6 912.8v4M925.6 925.4v4M925.6 938.0v4M925.6 950.6v4M925.6 963.2v4M925.6 975.8v4M925.6 988.3v4M925.6 1000.9v4M956.8 94.8v4M956.8 107.4v4M956.8 120.0v4M956.8 132.6v4M956.8 145.1v4M956.8 157.7v4M956.8 170.3v4M956.8 182.9v4M956.8 195.5v4M956.8 208.1v4M956.8 220.7v4M956.8 233.2v4M956.8 245.8v4M956.8 258.4v4M956.8 271.0v4M956.8 283.6v4M956.8 296.2v4M956.8 308.7v4M956.8 321.3v4M956.8 333.9v4M956.8 346.5v4M956.8 359.1v4M956.8 371.7v4M956.8 384.3v4M956.8 396.8v4M956.8 409.4v4M956.8 422.0v4M956.8 434.6v4M956.8 447.2v4M956.8 459.8v4M956.8 472.3v4M956.8 484.9v4M956.8 497.5v4M956.8 510.1v4M956.8 522.7v4M956.8 535.3v4M956.8 547.9v4M956.8 560.4v4M956.8 573.0v4M956.8 585.6v4M956.8 598.2v4M956.8 610.8v4M956.8 623.4v4M956.8 636.0v4M956.8 648.5v4M956.8 661.1v4M956.8 673.7v4M956.8 686.3v4M956.8 698.9v4M956.8 711.5v4M956.8 724.1v4M956.8 736.6v4M956.8 749.2v4M956.8 761.8v4M956.8 774.4v4M956.8 787.0v4M956.8 799.6v4M956.8 812.1v4M956.8 824.7v4M956.8 837.3v4M956.8 849.9v4M956.8 862.5v4M956.8 875.1v4M956.8 887.7v4M956.8 900.2v4M956.8 912.8v4M956.8 925.4v4M956.8 938.0v4M956.8 950.6v4M956.8 963.2v4M956.8 975.8v4M956.8 988.3v4M956.8 1000.9v4M988.0 94.8v4M988.0 107.4v4M988.0 120.0v4M988.0 132.6v4M988.0 145.1v4M988.0 157.7v4M988.0 170.3v4M988.0 182.9v4M988.0 195.5v4M988.0 208.1v4M988.0 220.7v4M988.0 233.2v4M988.0 245.8v4M988.0 258.4v4M988.0 271.0v4M988.0 283.6v4M988.0 296.2v4M988.0 308.7v4M988.0 321.3v4M988.0 333.9v4M988.0 346.5v4M988.0 359.1v4M988.0 371.7v4M988.0 384.3v4M988.0 396.8v4M988.0 409.4v4M988.0 422.0v4M988.0 434.6v4M988.0 447.2v4M988.0 459.8v4M988.0 472.3v4M988.0 484.9v4M988.0 497.5v4M988.0 510.1v4M988.0 522.7v4M988.0 535.3v4M988.0 547.9v4M988.0 560.4v4M988.0 573.0v4M988.0 585.6v4M988.0 598.2v4M988.0 610.8v4M988.0 623.4v4M988.0 636.0v4M988.0 648.5v4M988.0 661.1v4M988.0 673.7v4M988.0 686.3v4M988.0 698.9v4M988.0 711.5v4M988.0 724.1v4M988.0 736.6v4M988.0 749.2v4M988.0 761.8v4M988.0 774.4v4M988.0 787.0v4M988.0 799.6v4M988.0 812.1v4M988.0 824.7v4M988.0 837.3v4M988.0 849.9v4M988.0 862.5v4M988.0 875.1v4M988.0 887.7v4M988.0 900.2v4M988.0 912.8v4M988.0 925.4v4M988.0 938.0v4M988.0 950.6v4M988.0 963.2v4M988.0 975.8v4M988.0 988.3v4M988.0 1000.9v4M1019.1 94.8v4M1019.1 107.4v4M1019.1 120.0v4M1019.1 132.6v4M1019.1 145.1v4M1019.1 157.7v4M1019.1 170.3v4M1019.1 182.9v4M1019.1 195.5v4M1019.1 208.1v4M1019.1 220.7v4M1019.1 233.2v4M1019.1 245.8v4M1019.1 258.4v4M1019.1 271.0v4M1019.1 283.6v4M1019.1 296.2v4M1019.1 308.7v4M1019.1 321.3v4M1019.1 333.9v4M1019.1 346.5v4M1019.1 359.1v4M1019.1 371.7v4M1019.1 384.3v4M1019.1 396.8v4M1019.1 409.4v4M1019.1 422.0v4M1019.1 434.6v4M1019.1 447.2v4M1019.1 459.8v4M1019.1 472.3v4M1019.1 484.9v4M1019.1 497.5v4M1019.1 510.1v4M1019.1 522.7v4M1019.1 535.3v4M1019.1 547.9v4M1019.1 560.4v4M1019.1 573.0v4M1019.1 585.6v4M1019.1 598.2v4M1019.1 610.8v4M1019.1 623.4v4M1019.1 636.0v4M1019.1 648.5v4M1019.1 661.1v4M1019.1 673.7v4M1019.1 686.3v4M1019.1 698.9v4M1019.1 711.5v4M1019.1 724.1v4M1019.1 736.6v4M1019.1 749.2v4M1019.1 761.8v4M1019.1 774.4v4M1019.1 787.0v4M1019.1 799.6v4M1019.1 812.1v4M1019.1 824.7v4M1019.1 837.3v4M1019.1 849.9v4M1019.1 862.5v4M1019.1 875.1v4M1019.1 887.7v4M1019.1 900.2v4M1019.1 912.8v4M1019.1 925.4v4M1019.1 938.0v4M1019.1 950.6v4M1019.1 963.2v4M1019.1 975.8v4M1019.1 988.3v4M1019.1 1000.9v4M1050.3 94.8v4M1050.3 107.4v4M1050.3 120.0v4M1050.3 132.6v4M1050.3 145.1v4M1050.3 157.7v4M1050.3 170.3v4M1050.3 182.9v4M1050.3 195.5v4M1050.3 208.1v4M1050.3 220.7v4M1050.3 233.2v4M1050.3 245.8v4M1050.3 258.4v4M1050.3 271.0v4M1050.3 283.6v4M1050.3 296.2v4M1050.3 308.7v4M1050.3 321.3v4M1050.3 333.9v4M1050.3 346.5v4M1050.3 359.1v4M1050.3 371.7v4M1050.3 384.3v4M1050.3 396.8v4M1050.3 409.4v4M1050.3 422.0v4M1050.3 434.6v4M1050.3 447.2v4M1050.3 459.8v4M1050.3 472.3v4M1050.3 484.9v4M1050.3 497.5v4M1050.3 510.1v4M1050.3 522.7v4M1050.3 535.3v4M1050.3 547.9v4M1050.3 560.4v4M1050.3 573.0v4M1050.3 585.6v4M1050.3 598.2v4M1050.3 610.8v4M1050.3 623.4v4M1050.3 636.0v4M1050.3 648.5v4M1050.3 661.1v4M1050.3 673.7v4M1050.3 686.3v4M1050.3 698.9v4M1050.3 711.5v4M1050.3 724.1v4M1050.3 736.6v4M1050.3 749.2v4M1050.3 761.8v4M1050.3 774.4v4M1050.3 787.0v4M1050.3 799.6v4M1050.3 812.1v4M1050.3 824.7v4M1050.3 837.3v4M1050.3 849.9v4M1050.3 862.5v4M1050.3 875.1v4M1050.3 887.7v4M1050.3 900.2v4M1050.3 912.8v4M1050.3 925.4v4M1050.3 938.0v4M1050.3 950.6v4M1050.3 963.2v4M1050.3 975.8v4M1050.3 988.3v4M1050.3 1000.9v4M1081.5 94.8v4M1081.5 107.4v4M1081.5 120.0v4M1081.5 132.6v4M1081.5 145.1v4M1081.5 157.7v4M1081.5 170.3v4M1081.5 182.9v4M1081.5 195.5v4M1081.5 208.1v4M1081.5 220.7v4M1081.5 233.2v4M1081.5 245.8v4M1081.5 258.4v4M1081.5 271.0v4M1081.5 283.6v4M1081.5 296.2v4M1081.5 308.7v4M1081.5 321.3v4M1081.5 333.9v4M1081.5 346.5v4M1081.5 359.1v4M1081.5 371.7v4M1081.5 384.3v4M1081.5 396.8v4M1081.5 409.4v4M1081.5 422.0v4M1081.5 434.6v4M1081.5 447.2v4M1081.5 459.8v4M1081.5 472.3v4M1081.5 484.9v4M1081.5 497.5v4M1081.5 510.1v4M1081.5 522.7v4M1081.5 535.3v4M1081.5 547.9v4M1081.5 560.4v4M1081.5 573.0v4M1081.5 585.6v4M1081.5 598.2v4M1081.5 610.8v4M1081.5 623.4v4M1081.5 636.0v4M1081.5 648.5v4M1081.5 661.1v4M1081.5 673.7v4M1081.5 686.3v4M1081.5 698.9v4M1081.5 711.5v4M1081.5 724.1v4M1081.5 736.6v4M1081.5 749.2v4M1081.5 761.8v4M1081.5 774.4v4M1081.5 787.0v4M1081.5 799.6v4M1081.5 812.1v4M1081.5 824.7v4M1081.5 837.3v4M1081.5 849.9v4M1081.5 862.5v4M1081.5 875.1v4M1081.5 887.7v4M1081.5 900.2v4M1081.5 912.8v4M1081.5 925.4v4M1081.5 938.0v4M1081.5 950.6v4M1081.5 963.2v4M1081.5 975.8v4M1081.5 988.3v4M1081.5 1000.9v4M1112.7 94.8v4M1112.7 107.4v4M1112.7 120.0v4M1112.7 132.6v4M1112.7 145.1v4M1112.7 157.7v4M1112.7 170.3v4M1112.7 182.9v4M1112.7 195.5v4M1112.7 208.1v4M1112.7 220.7v4M1112.7 233.2v4M1112.7 245.8v4M1112.7 258.4v4M1112.7 271.0v4M1112.7 283.6v4M1112.7 296.2v4M1112.7 308.7v4M1112.7 321.3v4M1112.7 333.9v4M1112.7 346.5v4M1112.7 359.1v4M1112.7 371.7v4M1112.7 384.3v4M1112.7 396.8v4M1112.7 409.4v4M1112.7 422.0v4M1112.7 434.6v4M1112.7 447.2v4M1112.7 459.8v4M1112.7 472.3v4M1112.7 484.9v4M1112.7 497.5v4M1112.7 510.1v4M1112.7 522.7v4M1112.7 535.3v4M1112.7 547.9v4M1112.7 560.4v4M1112.7 573.0v4M1112.7 585.6v4M1112.7 598.2v4M1112.7 610.8v4M1112.7 623.4v4M1112.7 636.0v4M1112.7 648.5v4M1112.7 661.1v4M1112.7 673.7v4M1112.7 686.3v4M1112.7 698.9v4M1112.7 711.5v4M1112.7 724.1v4M1112.7 736.6v4M1112.7 749.2v4M1112.7 761.8v4M1112.7 774.4v4M1112.7 787.0v4M1112.7 799.6v4M1112.7 812.1v4M1112.7 824.7v4M1112.7 837.3v4M1112.7 849.9v4M1112.7 862.5v4M1112.7 875.1v4M1112.7 887.7v4M1112.7 900.2v4M1112.7 912.8v4M1112.7 925.4v4M1112.7 938.0v4M1112.7 950.6v4M1112.7 963.2v4M1112.7 975.8v4M1112.7 988.3v4M1112.7 1000.9v4M1143.9 94.8v4M1143.9 107.4v4M1143.9 120.0v4M1143.9 132.6v4M1143.9 145.1v4M1143.9 157.7v4M1143.9 170.3v4M1143.9 182.9v4M1143.9 195.5v4M1143.9 208.1v4M1143.9 220.7v4M1143.9 233.2v4M1143.9 245.8v4M1143.9 258.4v4M1143.9 271.0v4M1143.9 283.6v4M1143.9 296.2v4M1143.9 308.7v4M1143.9 321.3v4M1143.9 333.9v4M1143.9 346.5v4M1143.9 359.1v4M1143.9 371.7v4M1143.9 384.3v4M1143.9 396.8v4M1143.9 409.4v4M1143.9 422.0v4M1143.9 434.6v4M1143.9 447.2v4M1143.9 459.8v4M1143.9 472.3v4M1143.9 484.9v4M1143.9 497.5v4M1143.9 510.1v4M1143.9 522.7v4M1143.9 535.3v4M1143.9 547.9v4M1143.9 560.4v4M1143.9 573.0v4M1143.9 585.6v4M1143.9 598.2v4M1143.9 610.8v4M1143.9 623.4v4M1143.9 636.0v4M1143.9 648.5v4M1143.9 661.1v4M1143.9 673.7v4M1143.9 686.3v4M1143.9 698.9v4M1143.9 711.5v4M1143.9 724.1v4M1143.9 736.6v4M1143.9 749.2v4M1143.9 761.8v4M1143.9 774.4v4M1143.9 787.0v4M1143.9 799.6v4M1143.9 812.1v4M1143.9 824.7v4M1143.9 837.3v4M1143.9 849.9v4M1143.9 862.5v4M1143.9 875.1v4M1143.9 887.7v4M1143.9 900.2v4M1143.9 912.8v4M1143.9 925.4v4M1143.9 938.0v4M1143.9 950.6v4M1143.9 963.2v4M1143.9 975.8v4M1143.9 988.3v4M1143.9 1000.9v4M1175.1 94.8v4M1175.1 107.4v4M1175.1 120.0v4M1175.1 132.6v4M1175.1 145.1v4M1175.1 157.7v4M1175.1 170.3v4M1175.1 182.9v4M1175.1 195.5v4M1175.1 208.1v4M1175.1 220.7v4M1175.1 233.2v4M1175.1 245.8v4M1175.1 258.4v4M1175.1 271.0v4M1175.1 283.6v4M1175.1 296.2v4M1175.1 308.7v4M1175.1 321.3v4M1175.1 333.9v4M1175.1 346.5v4M1175.1 359.1v4M1175.1 371.7v4M1175.1 384.3v4M1175.1 396.8v4M1175.1 409.4v4M1175.1 422.0v4M1175.1 434.6v4M1175.1 447.2v4M1175.1 459.8v4M1175.1 472.3v4M1175.1 484.9v4M1175.1 497.5v4M1175.1 510.1v4M1175.1 522.7v4M1175.1 535.3v4M1175.1 547.9v4M1175.1 560.4v4M1175.1 573.0v4M1175.1 585.6v4M1175.1 598.2v4M1175.1 610.8v4M1175.1 623.4v4M1175.1 636.0v4M1175.1 648.5v4M1175.1 661.1v4M1175.1 673.7v4M1175.1 686.3v4M1175.1 698.9v4M1175.1 711.5v4M1175.1 724.1v4M1175.1 736.6v4M1175.1 749.2v4M1175.1 761.8v4M1175.1 774.4v4M1175.1 787.0v4M1175.1 799.6v4M1175.1 812.1v4M1175.1 824.7v4M1175.1 837.3v4M1175.1 849.9v4M1175.1 862.5v4M1175.1 875.1v4M1175.1 887.7v4M1175.1 900.2v4M1175.1 912.8v4M1175.1 925.4v4M1175.1 938.0v4M1175.1 950.6v4M1175.1 963.2v4M1175.1 975.8v4M1175.1 988.3v4M1175.1 1000.9v4M1206.3 94.8v4M1206.3 107.4v4M1206.3 120.0v4M1206.3 132.6v4M1206.3 145.1v4M1206.3 157.7v4M1206.3 170.3v4M1206.3 182.9v4M1206.3 195.5v4M1206.3 208.1v4M1206.3 220.7v4M1206.3 233.2v4M1206.3 245.8v4M1206.3 258.4v4M1206.3 271.0v4M1206.3 283.6v4M1206.3 296.2v4M1206.3 308.7v4M1206.3 321.3v4M1206.3 333.9v4M1206.3 346.5v4M1206.3 359.1v4M1206.3 371.7v4M1206.3 384.3v4M1206.3 396.8v4M1206.3 409.4v4M1206.3 422.0v4M1206.3 434.6v4M1206.3 447.2v4M1206.3 459.8v4M1206.3 472.3v4M1206.3 484.9v4M1206.3 497.5v4M1206.3 510.1v4M1206.3 522.7v4M1206.3 535.3v4M1206.3 547.9v4M1206.3 560.4v4M1206.3 573.0v4M1206.3 585.6v4M1206.3 598.2v4M1206.3 610.8v4M1206.3 623.4v4M1206.3 636.0v4M1206.3 648.5v4M1206.3 661.1v4M1206.3 673.7v4M1206.3 686.3v4M1206.3 698.9v4M1206.3 711.5v4M1206.3 724.1v4M1206.3 736.6v4M1206.3 749.2v4M1206.3 761.8v4M1206.3 774.4v4M1206.3 787.0v4M1206.3 799.6v4M1206.3 812.1v4M1206.3 824.7v4M1206.3 837.3v4M1206.3 849.9v4M1206.3 862.5v4M1206.3 875.1v4M1206.3 887.7v4M1206.3 900.2v4M1206.3 912.8v4M1206.3 925.4v4M1206.3 938.0v4M1206.3 950.6v4M1206.3 963.2v4M1206.3 975.8v4M1206.3 988.3v4M1206.3 1000.9v4M1237.4 94.8v4M1237.4 107.4v4M1237.4 120.0v4M1237.4 132.6v4M1237.4 145.1v4M1237.4 157.7v4M1237.4 170.3v4M1237.4 182.9v4M1237.4 195.5v4M1237.4 208.1v4M1237.4 220.7v4M1237.4 233.2v4M1237.4 245.8v4M1237.4 258.4v4M1237.4 271.0v4M1237.4 283.6v4M1237.4 296.2v4M1237.4 308.7v4M1237.4 321.3v4M1237.4 333.9v4M1237.4 346.5v4M1237.4 359.1v4M1237.4 371.7v4M1237.4 384.3v4M1237.4 396.8v4M1237.4 409.4v4M1237.4 422.0v4M1237.4 434.6v4M1237.4 447.2v4M1237.4 459.8v4M1237.4 472.3v4M1237.4 484.9v4M1237.4 497.5v4M1237.4 510.1v4M1237.4 522.7v4M1237.4 535.3v4M1237.4 547.9v4M1237.4 560.4v4M1237.4 573.0v4M1237.4 585.6v4M1237.4 598.2v4M1237.4 610.8v4M1237.4 623.4v4M1237.4 636.0v4M1237.4 648.5v4M1237.4 661.1v4M1237.4 673.7v4M1237.4 686.3v4M1237.4 698.9v4M1237.4 711.5v4M1237.4 724.1v4M1237.4 736.6v4M1237.4 749.2v4M1237.4 761.8v4M1237.4 774.4v4M1237.4 787.0v4M1237.4 799.6v4M1237.4 812.1v4M1237.4 824.7v4M1237.4 837.3v4M1237.4 849.9v4M1237.4 862.5v4M1237.4 875.1v4M1237.4 887.7v4M1237.4 900.2v4M1237.4 912.8v4M1237.4 925.4v4M1237.4 938.0v4M1237.4 950.6v4M1237.4 963.2v4M1237.4 975.8v4M1237.4 988.3v4M1237.4 1000.9v4M1268.6 94.8v4M1268.6 107.4v4M1268.6 120.0v4M1268.6 132.6v4M1268.6 145.1v4M1268.6 157.7v4M1268.6 170.3v4M1268.6 182.9v4M1268.6 195.5v4M1268.6 208.1v4M1268.6 220.7v4M1268.6 233.2v4M1268.6 245.8v4M1268.6 258.4v4M1268.6 271.0v4M1268.6 283.6v4M1268.6 296.2v4M1268.6 308.7v4M1268.6 321.3v4M1268.6 333.9v4M1268.6 346.5v4M1268.6 359.1v4M1268.6 371.7v4M1268.6 384.3v4M1268.6 396.8v4M1268.6 409.4v4M1268.6 422.0v4M1268.6 434.6v4M1268.6 447.2v4M1268.6 459.8v4M1268.6 472.3v4M1268.6 484.9v4M1268.6 497.5v4M1268.6 510.1v4M1268.6 522.7v4M1268.6 535.3v4M1268.6 547.9v4M1268.6 560.4v4M1268.6 573.0v4M1268.6 585.6v4M1268.6 598.2v4M1268.6 610.8v4M1268.6 623.4v4M1268.6 636.0v4M1268.6 648.5v4M1268.6 661.1v4M1268.6 673.7v4M1268.6 686.3v4M1268.6 698.9v4M1268.6 711.5v4M1268.6 724.1v4M1268.6 736.6v4M1268.6 749.2v4M1268.6 761.8v4M1268.6 774.4v4M1268.6 787.0v4M1268.6 799.6v4M1268.6 812.1v4M1268.6 824.7v4M1268.6 837.3v4M1268.6 849.9v4M1268.6 862.5v4M1268.6 875.1v4M1268.6 887.7v4M1268.6 900.2v4M1268.6 912.8v4M1268.6 925.4v4M1268.6 938.0v4M1268.6 950.6v4M1268.6 963.2v4M1268.6 975.8v4M1268.6 988.3v4M1268.6 1000.9v4M1299.8 94.8v4M1299.8 107.4v4M1299.8 120.0v4M1299.8 132.6v4M1299.8 145.1v4M1299.8 157.7v4M1299.8 170.3v4M1299.8 182.9v4M1299.8 195.5v4M1299.8 208.1v4M1299.8 220.7v4M1299.8 233.2v4M1299.8 245.8v4M1299.8 258.4v4M1299.8 271.0v4M1299.8 283.6v4M1299.8 296.2v4M1299.8 308.7v4M1299.8 321.3v4M1299.8 333.9v4M1299.8 346.5v4M1299.8 359.1v4M1299.8 371.7v4M1299.8 384.3v4M1299.8 396.8v4M1299.8 409.4v4M1299.8 422.0v4M1299.8 434.6v4M1299.8 447.2v4M1299.8 459.8v4M1299.8 472.3v4M1299.8 484.9v4M1299.8 497.5v4M1299.8 510.1v4M1299.8 522.7v4M1299.8 535.3v4M1299.8 547.9v4M1299.8 560.4v4M1299.8 573.0v4M1299.8 585.6v4M1299.8 598.2v4M1299.8 610.8v4M1299.8 623.4v4M1299.8 636.0v4M1299.8 648.5v4M1299.8 661.1v4M1299.8 673.7v4M1299.8 686.3v4M1299.8 698.9v4M1299.8 711.5v4M1299.8 724.1v4M1299.8 736.6v4M1299.8 749.2v4M1299.8 761.8v4M1299.8 774.4v4M1299.8 787.0v4M1299.8 799.6v4M1299.8 812.1v4M1299.8 824.7v4M1299.8 837.3v4M1299.8 849.9v4M1299.8 862.5v4M1299.8 875.1v4M1299.8 887.7v4M1299.8 900.2v4M1299.8 912.8v4M1299.8 925.4v4M1299.8 938.0v4M1299.8 950.6v4M1299.8 963.2v4M1299.8 975.8v4M1299.8 988.3v4M1299.8 1000.9v4M1331.0 94.8v4M1331.0 107.4v4M1331.0 120.0v4M1331.0 132.6v4M1331.0 145.1v4M1331.0 157.7v4M1331.0 170.3v4M1331.0 182.9v4M1331.0 195.5v4M1331.0 208.1v4M1331.0 220.7v4M1331.0 233.2v4M1331.0 245.8v4M1331.0 258.4v4M1331.0 271.0v4M1331.0 283.6v4M1331.0 296.2v4M1331.0 308.7v4M1331.0 321.3v4M1331.0 333.9v4M1331.0 346.5v4M1331.0 359.1v4M1331.0 371.7v4M1331.0 384.3v4M1331.0 396.8v4M1331.0 409.4v4M1331.0 422.0v4M1331.0 434.6v4M1331.0 447.2v4M1331.0 459.8v4M1331.0 472.3v4M1331.0 484.9v4M1331.0 497.5v4M1331.0 510.1v4M1331.0 522.7v4M1331.0 535.3v4M1331.0 547.9v4M1331.0 560.4v4M1331.0 573.0v4M1331.0 585.6v4M1331.0 598.2v4M1331.0 610.8v4M1331.0 623.4v4M1331.0 636.0v4M1331.0 648.5v4M1331.0 661.1v4M1331.0 673.7v4M1331.0 686.3v4M1331.0 698.9v4M1331.0 711.5v4M1331.0 724.1v4M1331.0 736.6v4M1331.0 749.2v4M1331.0 761.8v4M1331.0 774.4v4M1331.0 787.0v4M1331.0 799.6v4M1331.0 812.1v4M1331.0 824.7v4M1331.0 837.3v4M1331.0 849.9v4M1331.0 862.5v4M1331.0 875.1v4M1331.0 887.7v4M1331.0 900.2v4M1331.0 912.8v4M1331.0 925.4v4M1331.0 938.0v4M1331.0 950.6v4M1331.0 963.2v4M1331.0 975.8v4M1331.0 988.3v4M1331.0 1000.9v4" stroke="#c4c4c4" stroke-width="1.8" fill="none"/>
<path d="M81.4 116.1h4.4M94.0 116.1h4.4M106.6 116.1h4.4M119.2 116.1h4.4M131.7 116.1h4.4M144.3 116.1h4.4M156.9 116.1h4.4M169.5 116.1h4.4M182.1 116.1h4.4M194.7 116.1h4.4M207.3 116.1h4.4M219.8 116.1h4.4M232.4 116.1h4.4M245.0 116.1h4.4M257.6 116.1h4.4M270.2 116.1h4.4M282.8 116.1h4.4M295.3 116.1h4.4M307.9 116.1h4.4M320.5 116.1h4.4M333.1 116.1h4.4M345.7 116.1h4.4M358.3 116.1h4.4M370.9 116.1h4.4M383.4 116.1h4.4M396.0 116.1h4.4M408.6 116.1h4.4M421.2 116.1h4.4M433.8 116.1h4.4M446.4 116.1h4.4M458.9 116.1h4.4M471.5 116.1h4.4M484.1 116.1h4.4M496.7 116.1h4.4M509.3 116.1h4.4M521.9 116.1h4.4M534.5 116.1h4.4M547.0 116.1h4.4M559.6 116.1h4.4M572.2 116.1h4.4M584.8 116.1h4.4M597.4 116.1h4.4M610.0 116.1h4.4M622.6 116.1h4.4M635.1 116.1h4.4M647.7 116.1h4.4M660.3 116.1h4.4M672.9 116.1h4.4M685.5 116.1h4.4M698.1 116.1h4.4M710.7 116.1h4.4M723.2 116.1h4.4M735.8 116.1h4.4M748.4 116.1h4.4M761.0 116.1h4.4M773.6 116.1h4.4M786.2 116.1h4.4M798.7 116.1h4.4M811.3 116.1h4.4M823.9 116.1h4.4M836.5 116.1h4.4M849.1 116.1h4.4M861.7 116.1h4.4M874.3 116.1h4.4M886.8 116.1h4.4M899.4 116.1h4.4M912.0 116.1h4.4M924.6 116.1h4.4M937.2 116.1h4.4M949.8 116.1h4.4M962.4 116.1h4.4M974.9 116.1h4.4M987.5 116.1h4.4M1000.1 116.1h4.4M1012.7 116.1h4.4M1025.3 116.1h4.4M1037.9 116.1h4.4M1050.4 116.1h4.4M1063.0 116.1h4.4M1075.6 116.1h4.4M1088.2 116.1h4.4M1100.8 116.1h4.4M1113.4 116.1h4.4M1126.0 116.1h4.4M1138.5 116.1h4.4M1151.1 116.1h4.4M1163.7 116.1h4.4M1176.3 116.1h4.4M1188.9 116.1h4.4M1201.5 116.1h4.4M1214.1 116.1h4.4M1226.6 116.1h4.4M1239.2 116.1h4.4M1251.8 116.1h4.4M1264.4 116.1h4.4M1277.0 116.1h4.4M1289.6 116.1h4.4M1302.1 116.1h4.4M1314.7 116.1h4.4M1327.3 116.1h4.4M81.4 150.0h4.4M94.0 150.0h4.4M106.6 150.0h4.4M119.2 150.0h4.4M131.7 150.0h4.4M144.3 150.0h4.4M156.9 150.0h4.4M169.5 150.0h4.4M182.1 150.0h4.4M194.7 150.0h4.4M207.3 150.0h4.4M219.8 150.0h4.4M232.4 150.0h4.4M245.0 150.0h4.4M257.6 150.0h4.4M270.2 150.0h4.4M282.8 150.0h4.4M295.3 150.0h4.4M307.9 150.0h4.4M320.5 150.0h4.4M333.1 150.0h4.4M345.7 150.0h4.4M358.3 150.0h4.4M370.9 150.0h4.4M383.4 150.0h4.4M396.0 150.0h4.4M408.6 150.0h4.4M421.2 150.0h4.4M433.8 150.0h4.4M446.4 150.0h4.4M458.9 150.0h4.4M471.5 150.0h4.4M484.1 150.0h4.4M496.7 150.0h4.4M509.3 150.0h4.4M521.9 150.0h4.4M534.5 150.0h4.4M547.0 150.0h4.4M559.6 150.0h4.4M572.2 150.0h4.4M584.8 150.0h4.4M597.4 150.0h4.4M610.0 150.0h4.4M622.6 150.0h4.4M635.1 150.0h4.4M647.7 150.0h4.4M660.3 150.0h4.4M672.9 150.0h4.4M685.5 150.0h4.4M698.1 150.0h4.4M710.7 150.0h4.4M723.2 150.0h4.4M735.8 150.0h4.4M748.4 150.0h4.4M761.0 150.0h4.4M773.6 150.0h4.4M786.2 150.0h4.4M798.7 150.0h4.4M811.3 150.0h4.4M823.9 150.0h4.4M836.5 150.0h4.4M849.1 150.0h4.4M861.7 150.0h4.4M874.3 150.0h4.4M886.8 150.0h4.4M899.4 150.0h4.4M912.0 150.0h4.4M924.6 150.0h4.4M937.2 150.0h4.4M949.8 150.0h4.4M962.4 150.0h4.4M974.9 150.0h4.4M987.5 150.0h4.4M1000.1 150.0h4.4M1012.7 150.0h4.4M1025.3 150.0h4.4M1037.9 150.0h4.4M1050.4 150.0h4.4M1063.0 150.0h4.4M1075.6 150.0h4.4M1088.2 150.0h4.4M1100.8 150.0h4.4M1113.4 150.0h4.4M1126.0 150.0h4.4M1138.5 150.0h4.4M1151.1 150.0h4.4M1163.7 150.0h4.4M1176.3 150.0h4.4M1188.9 150.0h4.4M1201.5 150.0h4.4M1214.1 150.0h4.4M1226.6 150.0h4.4M1239.2 150.0h4.4M1251.8 150.0h4.4M1264.4 150.0h4.4M1277.0 150.0h4.4M1289.6 150.0h4.4M1302.1 150.0h4.4M1314.7 150.0h4.4M1327.3 150.0h4.4M81.4 183.9h4.4M94.0 183.9h4.4M106.6 183.9h4.4M119.2 183.9h4.4M131.7 183.9h4.4M144.3 183.9h4.4M156.9 183.9h4.4M169.5 183.9h4.4M182.1 183.9h4.4M194.7 183.9h4.4M207.3 183.9h4.4M219.8 183.9h4.4M232.4 183.9h4.4M245.0 183.9h4.4M257.6 183.9h4.4M270.2 183.9h4.4M282.8 183.9h4.4M295.3 183.9h4.4M307.9 183.9h4.4M320.5 183.9h4.4M333.1 183.9h4.4M345.7 183.9h4.4M358.3 183.9h4.4M370.9 183.9h4.4M383.4 183.9h4.4M396.0 183.9h4.4M408.6 183.9h4.4M421.2 183.9h4.4M433.8 183.9h4.4M446.4 183.9h4.4M458.9 183.9h4.4M471.5 183.9h4.4M484.1 183.9h4.4M496.7 183.9h4.4M509.3 183.9h4.4M521.9 183.9h4.4M534.5 183.9h4.4M547.0 183.9h4.4M559.6 183.9h4.4M572.2 183.9h4.4M584.8 183.9h4.4M597.4 183.9h4.4M610.0 183.9h4.4M622.6 183.9h4.4M635.1 183.9h4.4M647.7 183.9h4.4M660.3 183.9h4.4M672.9 183.9h4.4M685.5 183.9h4.4M698.1 183.9h4.4M710.7 183.9h4.4M723.2 183.9h4.4M735.8 183.9h4.4M748.4 183.9h4.4M761.0 183.9h4.4M773.6 183.9h4.4M786.2 183.9h4.4M798.7 183.9h4.4M811.3 183.9h4.4M823.9 183.9h4.4M836.5 183.9h4.4M849.1 183.9h4.4M861.7 183.9h4.4M874.3 183.9h4.4M886.8 183.9h4.4M899.4 183.9h4.4M912.0 183.9h4.4M924.6 183.9h4.4M937.2 183.9h4.4M949.8 183.9h4.4M962.4 183.9h4.4M974.9 183.9h4.4M987.5 183.9h4.4M1000.1 183.9h4.4M1012.7 183.9h4.4M1025.3 183.9h4.4M1037.9 183.9h4.4M1050.4 183.9h4.4M1063.0 183.9h4.4M1075.6 183.9h4.4M1088.2 183.9h4.4M1100.8 183.9h4.4M1113.4 183.9h4.4M1126.0 183.9h4.4M1138.5 183.9h4.4M1151.1 183.9h4.4M1163.7 183.9h4.4M1176.3 183.9h4.4M1188.9 183.9h4.4M1201.5 183.9h4.4M1214.1 183.9h4.4M1226.6 183.9h4.4M1239.2 183.9h4.4M1251.8 183.9h4.4M1264.4 183.9h4.4M1277.0 183.9h4.4M1289.6 183.9h4.4M1302.1 183.9h4.4M1314.7 183.9h4.4M1327.3 183.9h4.4M81.4 217.8h4.4M94.0 217.8h4.4M106.6 217.8h4.4M119.2 217.8h4.4M131.7 217.8h4.4M144.3 217.8h4.4M156.9 217.8h4.4M169.5 217.8h4.4M182.1 217.8h4.4M194.7 217.8h4.4M207.3 217.8h4.4M219.8 217.8h4.4M232.4 217.8h4.4M245.0 217.8h4.4M257.6 217.8h4.4M270.2 217.8h4.4M282.8 217.8h4.4M295.3 217.8h4.4M307.9 217.8h4.4M320.5 217.8h4.4M333.1 217.8h4.4M345.7 217.8h4.4M358.3 217.8h4.4M370.9 217.8h4.4M383.4 217.8h4.4M396.0 217.8h4.4M408.6 217.8h4.4M421.2 217.8h4.4M433.8 217.8h4.4M446.4 217.8h4.4M458.9 217.8h4.4M471.5 217.8h4.4M484.1 217.8h4.4M496.7 217.8h4.4M509.3 217.8h4.4M521.9 217.8h4.4M534.5 217.8h4.4M547.0 217.8h4.4M559.6 217.8h4.4M572.2 217.8h4.4M584.8 217.8h4.4M597.4 217.8h4.4M610.0 217.8h4.4M622.6 217.8h4.4M635.1 217.8h4.4M647.7 217.8h4.4M660.3 217.8h4.4M672.9 217.8h4.4M685.5 217.8h4.4M698.1 217.8h4.4M710.7 217.8h4.4M723.2 217.8h4.4M735.8 217.8h4.4M748.4 217.8h4.4M761.0 217.8h4.4M773.6 217.8h4.4M786.2 217.8h4.4M798.7 217.8h4.4M811.3 217.8h4.4M823.9 217.8h4.4M836.5 217.8h4.4M849.1 217.8h4.4M861.7 217.8h4.4M874.3 217.8h4.4M886.8 217.8h4.4M899.4 217.8h4.4M912.0 217.8h4.4M924.6 217.8h4.4M937.2 217.8h4.4M949.8 217.8h4.4M962.4 217.8h4.4M974.9 217.8h4.4M987.5 217.8h4.4M1000.1 217.8h4.4M1012.7 217.8h4.4M1025.3 217.8h4.4M1037.9 217.8h4.4M1050.4 217.8h4.4M1063.0 217.8h4.4M1075.6 217.8h4.4M1088.2 217.8h4.4M1100.8 217.8h4.4M1113.4 217.8h4.4M1126.0 217.8h4.4M1138.5 217.8h4.4M1151.1 217.8h4.4M1163.7 217.8h4.4M1176.3 217.8h4.4M1188.9 217.8h4.4M1201.5 217.8h4.4M1214.1 217.8h4.4M1226.6 217.8h4.4M1239.2 217.8h4.4M1251.8 217.8h4.4M1264.4 217.8h4.4M1277.0 217.8h4.4M1289.6 217.8h4.4M1302.1 217.8h4.4M1314.7 217.8h4.4M1327.3 217.8h4.4M81.4 251.7h4.4M94.0 251.7h4.4M106.6 251.7h4.4M119.2 251.7h4.4M131.7 251.7h4.4M144.3 251.7h4.4M156.9 251.7h4.4M169.5 251.7h4.4M182.1 251.7h4.4M194.7 251.7h4.4M207.3 251.7h4.4M219.8 251.7h4.4M232.4 251.7h4.4M245.0 251.7h4.4M257.6 251.7h4.4M270.2 251.7h4.4M282.8 251.7h4.4M295.3 251.7h4.4M307.9 251.7h4.4M320.5 251.7h4.4M333.1 251.7h4.4M345.7 251.7h4.4M358.3 251.7h4.4M370.9 251.7h4.4M383.4 251.7h4.4M396.0 251.7h4.4M408.6 251.7h4.4M421.2 251.7h4.4M433.8 251.7h4.4M446.4 251.7h4.4M458.9 251.7h4.4M471.5 251.7h4.4M484.1 251.7h4.4M496.7 251.7h4.4M509.3 251.7h4.4M521.9 251.7h4.4M534.5 251.7h4.4M547.0 251.7h4.4M559.6 251.7h4.4M572.2 251.7h4.4M584.8 251.7h4.4M597.4 251.7h4.4M610.0 251.7h4.4M622.6 251.7h4.4M635.1 251.7h4.4M647.7 251.7h4.4M660.3 251.7h4.4M672.9 251.7h4.4M685.5 251.7h4.4M698.1 251.7h4.4M710.7 251.7h4.4M723.2 251.7h4.4M735.8 251.7h4.4M748.4 251.7h4.4M761.0 251.7h4.4M773.6 251.7h4.4M786.2 251.7h4.4M798.7 251.7h4.4M811.3 251.7h4.4M823.9 251.7h4.4M836.5 251.7h4.4M849.1 251.7h4.4M861.7 251.7h4.4M874.3 251.7h4.4M886.8 251.7h4.4M899.4 251.7h4.4M912.0 251.7h4.4M924.6 251.7h4.4M937.2 251.7h4.4M949.8 251.7h4.4M962.4 251.7h4.4M974.9 251.7h4.4M987.5 251.7h4.4M1000.1 251.7h4.4M1012.7 251.7h4.4M1025.3 251.7h4.4M1037.9 251.7h4.4M1050.4 251.7h4.4M1063.0 251.7h4.4M1075.6 251.7h4.4M1088.2 251.7h4.4M1100.8 251.7h4.4M1113.4 251.7h4.4M1126.0 251.7h4.4M1138.5 251.7h4.4M1151.1 251.7h4.4M1163.7 251.7h4.4M1176.3 251.7h4.4M1188.9 251.7h4.4M1201.5 251.7h4.4M1214.1 251.7h4.4M1226.6 251.7h4.4M1239.2 251.7h4.4M1251.8 251.7h4.4M1264.4 251.7h4.4M1277.0 251.7h4.4M1289.6 251.7h4.4M1302.1 251.7h4.4M1314.7 251.7h4.4M1327.3 251.7h4.4M81.4 285.6h4.4M94.0 285.6h4.4M106.6 285.6h4.4M119.2 285.6h4.4M131.7 285.6h4.4M144.3 285.6h4.4M156.9 285.6h4.4M169.5 285.6h4.4M182.1 285.6h4.4M194.7 285.6h4.4M207.3 285.6h4.4M219.8 285.6h4.4M232.4 285.6h4.4M245.0 285.6h4.4M257.6 285.6h4.4M270.2 285.6h4.4M282.8 285.6h4.4M295.3 285.6h4.4M307.9 285.6h4.4M320.5 285.6h4.4M333.1 285.6h4.4M345.7 285.6h4.4M358.3 285.6h4.4M370.9 285.6h4.4M383.4 285.6h4.4M396.0 285.6h4.4M408.6 285.6h4.4M421.2 285.6h4.4M433.8 285.6h4.4M446.4 285.6h4.4M458.9 285.6h4.4M471.5 285.6h4.4M484.1 285.6h4.4M496.7 285.6h4.4M509.3 285.6h4.4M521.9 285.6h4.4M534.5 285.6h4.4M547.0 285.6h4.4M559.6 285.6h4.4M572.2 285.6h4.4M584.8 285.6h4.4M597.4 285.6h4.4M610.0 285.6h4.4M622.6 285.6h4.4M635.1 285.6h4.4M647.7 285.6h4.4M660.3 285.6h4.4M672.9 285.6h4.4M685.5 285.6h4.4M698.1 285.6h4.4M710.7 285.6h4.4M723.2 285.6h4.4M735.8 285.6h4.4M748.4 285.6h4.4M761.0 285.6h4.4M773.6 285.6h4.4M786.2 285.6h4.4M798.7 285.6h4.4M811.3 285.6h4.4M823.9 285.6h4.4M836.5 285.6h4.4M849.1 285.6h4.4M861.7 285.6h4.4M874.3 285.6h4.4M886.8 285.6h4.4M899.4 285.6h4.4M912.0 285.6h4.4M924.6 285.6h4.4M937.2 285.6h4.4M949.8 285.6h4.4M962.4 285.6h4.4M974.9 285.6h4.4M987.5 285.6h4.4M1000.1 285.6h4.4M1012.7 285.6h4.4M1025.3 285.6h4.4M1037.9 285.6h4.4M1050.4 285.6h4.4M1063.0 285.6h4.4M1075.6 285.6h4.4M1088.2 285.6h4.4M1100.8 285.6h4.4M1113.4 285.6h4.4M1126.0 285.6h4.4M1138.5 285.6h4.4M1151.1 285.6h4.4M1163.7 285.6h4.4M1176.3 285.6h4.4M1188.9 285.6h4.4M1201.5 285.6h4.4M1214.1 285.6h4.4M1226.6 285.6h4.4M1239.2 285.6h4.4M1251.8 285.6h4.4M1264.4 285.6h4.4M1277.0 285.6h4.4M1289.6 285.6h4.4M1302.1 285.6h4.4M1314.7 285.6h4.4M1327.3 285.6h4.4M81.4 319.5h4.4M94.0 319.5h4.4M106.6 319.5h4.4M119.2 319.5h4.4M131.7 319.5h4.4M144.3 319.5h4.4M156.9 319.5h4.4M169.5 319.5h4.4M182.1 319.5h4.4M194.7 319.5h4.4M207.3 319.5h4.4M219.8 319.5h4.4M232.4 319.5h4.4M245.0 319.5h4.4M257.6 319.5h4.4M270.2 319.5h4.4M282.8 319.5h4.4M295.3 319.5h4.4M307.9 319.5h4.4M320.5 319.5h4.4M333.1 319.5h4.4M345.7 319.5h4.4M358.3 319.5h4.4M370.9 319.5h4.4M383.4 319.5h4.4M396.0 319.5h4.4M408.6 319.5h4.4M421.2 319.5h4.4M433.8 319.5h4.4M446.4 319.5h4.4M458.9 319.5h4.4M471.5 319.5h4.4M484.1 319.5h4.4M496.7 319.5h4.4M509.3 319.5h4.4M521.9 319.5h4.4M534.5 319.5h4.4M547.0 319.5h4.4M559.6 319.5h4.4M572.2 319.5h4.4M584.8 319.5h4.4M597.4 319.5h4.4M610.0 319.5h4.4M622.6 319.5h4.4M635.1 319.5h4.4M647.7 319.5h4.4M660.3 319.5h4.4M672.9 319.5h4.4M685.5 319.5h4.4M698.1 319.5h4.4M710.7 319.5h4.4M723.2 319.5h4.4M735.8 319.5h4.4M748.4 319.5h4.4M761.0 319.5h4.4M773.6 319.5h4.4M786.2 319.5h4.4M798.7 319.5h4.4M811.3 319.5h4.4M823.9 319.5h4.4M836.5 319.5h4.4M849.1 319.5h4.4M861.7 319.5h4.4M874.3 319.5h4.4M886.8 319.5h4.4M899.4 319.5h4.4M912.0 319.5h4.4M924.6 319.5h4.4M937.2 319.5h4.4M949.8 319.5h4.4M962.4 319.5h4.4M974.9 319.5h4.4M987.5 319.5h4.4M1000.1 319.5h4.4M1012.7 319.5h4.4M1025.3 319.5h4.4M1037.9 319.5h4.4M1050.4 319.5h4.4M1063.0 319.5h4.4M1075.6 319.5h4.4M1088.2 319.5h4.4M1100.8 319.5h4.4M1113.4 319.5h4.4M1126.0 319.5h4.4M1138.5 319.5h4.4M1151.1 319.5h4.4M1163.7 319.5h4.4M1176.3 319.5h4.4M1188.9 319.5h4.4M1201.5 319.5h4.4M1214.1 319.5h4.4M1226.6 319.5h4.4M1239.2 319.5h4.4M1251.8 319.5h4.4M1264.4 319.5h4.4M1277.0 319.5h4.4M1289.6 319.5h4.4M1302.1 319.5h4.4M1314.7 319.5h4.4M1327.3 319.5h4.4M81.4 353.4h4.4M94.0 353.4h4.4M106.6 353.4h4.4M119.2 353.4h4.4M131.7 353.4h4.4M144.3 353.4h4.4M156.9 353.4h4.4M169.5 353.4h4.4M182.1 353.4h4.4M194.7 353.4h4.4M207.3 353.4h4.4M219.8 353.4h4.4M232.4 353.4h4.4M245.0 353.4h4.4M257.6 353.4h4.4M270.2 353.4h4.4M282.8 353.4h4.4M295.3 353.4h4.4M307.9 353.4h4.4M320.5 353.4h4.4M333.1 353.4h4.4M345.7 353.4h4.4M358.3 353.4h4.4M370.9 353.4h4.4M383.4 353.4h4.4M396.0 353.4h4.4M408.6 353.4h4.4M421.2 353.4h4.4M433.8 353.4h4.4M446.4 353.4h4.4M458.9 353.4h4.4M471.5 353.4h4.4M484.1 353.4h4.4M496.7 353.4h4.4M509.3 353.4h4.4M521.9 353.4h4.4M534.5 353.4h4.4M547.0 353.4h4.4M559.6 353.4h4.4M572.2 353.4h4.4M584.8 353.4h4.4M597.4 353.4h4.4M610.0 353.4h4.4M622.6 353.4h4.4M635.1 353.4h4.4M647.7 353.4h4.4M660.3 353.4h4.4M672.9 353.4h4.4M685.5 353.4h4.4M698.1 353.4h4.4M710.7 353.4h4.4M723.2 353.4h4.4M735.8 353.4h4.4M748.4 353.4h4.4M761.0 353.4h4.4M773.6 353.4h4.4M786.2 353.4h4.4M798.7 353.4h4.4M811.3 353.4h4.4M823.9 353.4h4.4M836.5 353.4h4.4M849.1 353.4h4.4M861.7 353.4h4.4M874.3 353.4h4.4M886.8 353.4h4.4M899.4 353.4h4.4M912.0 353.4h4.4M924.6 353.4h4.4M937.2 353.4h4.4M949.8 353.4h4.4M962.4 353.4h4.4M974.9 353.4h4.4M987.5 353.4h4.4M1000.1 353.4h4.4M1012.7 353.4h4.4M1025.3 353.4h4.4M1037.9 353.4h4.4M1050.4 353.4h4.4M1063.0 353.4h4.4M1075.6 353.4h4.4M1088.2 353.4h4.4M1100.8 353.4h4.4M1113.4 353.4h4.4M1126.0 353.4h4.4M1138.5 353.4h4.4M1151.1 353.4h4.4M1163.7 353.4h4.4M1176.3 353.4h4.4M1188.9 353.4h4.4M1201.5 353.4h4.4M1214.1 353.4h4.4M1226.6 353.4h4.4M1239.2 353.4h4.4M1251.8 353.4h4.4M1264.4 353.4h4.4M1277.0 353.4h4.4M1289.6 353.4h4.4M1302.1 353.4h4.4M1314.7 353.4h4.4M1327.3 353.4h4.4M81.4 387.3h4.4M94.0 387.3h4.4M106.6 387.3h4.4M119.2 387.3h4.4M131.7 387.3h4.4M144.3 387.3h4.4M156.9 387.3h4.4M169.5 387.3h4.4M182.1 387.3h4.4M194.7 387.3h4.4M207.3 387.3h4.4M219.8 387.3h4.4M232.4 387.3h4.4M245.0 387.3h4.4M257.6 387.3h4.4M270.2 387.3h4.4M282.8 387.3h4.4M295.3 387.3h4.4M307.9 387.3h4.4M320.5 387.3h4.4M333.1 387.3h4.4M345.7 387.3h4.4M358.3 387.3h4.4M370.9 387.3h4.4M383.4 387.3h4.4M396.0 387.3h4.4M408.6 387.3h4.4M421.2 387.3h4.4M433.8 387.3h4.4M446.4 387.3h4.4M458.9 387.3h4.4M471.5 387.3h4.4M484.1 387.3h4.4M496.7 387.3h4.4M509.3 387.3h4.4M521.9 387.3h4.4M534.5 387.3h4.4M547.0 387.3h4.4M559.6 387.3h4.4M572.2 387.3h4.4M584.8 387.3h4.4M597.4 387.3h4.4M610.0 387.3h4.4M622.6 387.3h4.4M635.1 387.3h4.4M647.7 387.3h4.4M660.3 387.3h4.4M672.9 387.3h4.4M685.5 387.3h4.4M698.1 387.3h4.4M710.7 387.3h4.4M723.2 387.3h4.4M735.8 387.3h4.4M748.4 387.3h4.4M761.0 387.3h4.4M773.6 387.3h4.4M786.2 387.3h4.4M798.7 387.3h4.4M811.3 387.3h4.4M823.9 387.3h4.4M836.5 387.3h4.4M849.1 387.3h4.4M861.7 387.3h4.4M874.3 387.3h4.4M886.8 387.3h4.4M899.4 387.3h4.4M912.0 387.3h4.4M924.6 387.3h4.4M937.2 387.3h4.4M949.8 387.3h4.4M962.4 387.3h4.4M974.9 387.3h4.4M987.5 387.3h4.4M1000.1 387.3h4.4M1012.7 387.3h4.4M1025.3 387.3h4.4M1037.9 387.3h4.4M1050.4 387.3h4.4M1063.0 387.3h4.4M1075.6 387.3h4.4M1088.2 387.3h4.4M1100.8 387.3h4.4M1113.4 387.3h4.4M1126.0 387.3h4.4M1138.5 387.3h4.4M1151.1 387.3h4.4M1163.7 387.3h4.4M1176.3 387.3h4.4M1188.9 387.3h4.4M1201.5 387.3h4.4M1214.1 387.3h4.4M1226.6 387.3h4.4M1239.2 387.3h4.4M1251.8 387.3h4.4M1264.4 387.3h4.4M1277.0 387.3h4.4M1289.6 387.3h4.4M1302.1 387.3h4.4M1314.7 387.3h4.4M1327.3 387.3h4.4M81.4 421.2h4.4M94.0 421.2h4.4M106.6 421.2h4.4M119.2 421.2h4.4M131.7 421.2h4.4M144.3 421.2h4.4M156.9 421.2h4.4M169.5 421.2h4.4M182.1 421.2h4.4M194.7 421.2h4.4M207.3 421.2h4.4M219.8 421.2h4.4M232.4 421.2h4.4M245.0 421.2h4.4M257.6 421.2h4.4M270.2 421.2h4.4M282.8 421.2h4.4M295.3 421.2h4.4M307.9 421.2h4.4M320.5 421.2h4.4M333.1 421.2h4.4M345.7 421.2h4.4M358.3 421.2h4.4M370.9 421.2h4.4M383.4 421.2h4.4M396.0 421.2h4.4M408.6 421.2h4.4M421.2 421.2h4.4M433.8 421.2h4.4M446.4 421.2h4.4M458.9 421.2h4.4M471.5 421.2h4.4M484.1 421.2h4.4M496.7 421.2h4.4M509.3 421.2h4.4M521.9 421.2h4.4M534.5 421.2h4.4M547.0 421.2h4.4M559.6 421.2h4.4M572.2 421.2h4.4M584.8 421.2h4.4M597.4 421.2h4.4M610.0 421.2h4.4M622.6 421.2h4.4M635.1 421.2h4.4M647.7 421.2h4.4M660.3 421.2h4.4M672.9 421.2h4.4M685.5 421.2h4.4M698.1 421.2h4.4M710.7 421.2h4.4M723.2 421.2h4.4M735.8 421.2h4.4M748.4 421.2h4.4M761.0 421.2h4.4M773.6 421.2h4.4M786.2 421.2h4.4M798.7 421.2h4.4M811.3 421.2h4.4M823.9 421.2h4.4M836.5 421.2h4.4M849.1 421.2h4.4M861.7 421.2h4.4M874.3 421.2h4.4M886.8 421.2h4.4M899.4 421.2h4.4M912.0 421.2h4.4M924.6 421.2h4.4M937.2 421.2h4.4M949.8 421.2h4.4M962.4 421.2h4.4M974.9 421.2h4.4M987.5 421.2h4.4M1000.1 421.2h4.4M1012.7 421.2h4.4M1025.3 421.2h4.4M1037.9 421.2h4.4M1050.4 421.2h4.4M1063.0 421.2h4.4M1075.6 421.2h4.4M1088.2 421.2h4.4M1100.8 421.2h4.4M1113.4 421.2h4.4M1126.0 421.2h4.4M1138.5 421.2h4.4M1151.1 421.2h4.4M1163.7 421.2h4.4M1176.3 421.2h4.4M1188.9 421.2h4.4M1201.5 421.2h4.4M1214.1 421.2h4.4M1226.6 421.2h4.4M1239.2 421.2h4.4M1251.8 421.2h4.4M1264.4 421.2h4.4M1277.0 421.2h4.4M1289.6 421.2h4.4M1302.1 421.2h4.4M1314.7 421.2h4.4M1327.3 421.2h4.4M81.4 455.2h4.4M94.0 455.2h4.4M106.6 455.2h4.4M119.2 455.2h4.4M131.7 455.2h4.4M144.3 455.2h4.4M156.9 455.2h4.4M169.5 455.2h4.4M182.1 455.2h4.4M194.7 455.2h4.4M207.3 455.2h4.4M219.8 455.2h4.4M232.4 455.2h4.4M245.0 455.2h4.4M257.6 455.2h4.4M270.2 455.2h4.4M282.8 455.2h4.4M295.3 455.2h4.4M307.9 455.2h4.4M320.5 455.2h4.4M333.1 455.2h4.4M345.7 455.2h4.4M358.3 455.2h4.4M370.9 455.2h4.4M383.4 455.2h4.4M396.0 455.2h4.4M408.6 455.2h4.4M421.2 455.2h4.4M433.8 455.2h4.4M446.4 455.2h4.4M458.9 455.2h4.4M471.5 455.2h4.4M484.1 455.2h4.4M496.7 455.2h4.4M509.3 455.2h4.4M521.9 455.2h4.4M534.5 455.2h4.4M547.0 455.2h4.4M559.6 455.2h4.4M572.2 455.2h4.4M584.8 455.2h4.4M597.4 455.2h4.4M610.0 455.2h4.4M622.6 455.2h4.4M635.1 455.2h4.4M647.7 455.2h4.4M660.3 455.2h4.4M672.9 455.2h4.4M685.5 455.2h4.4M698.1 455.2h4.4M710.7 455.2h4.4M723.2 455.2h4.4M735.8 455.2h4.4M748.4 455.2h4.4M761.0 455.2h4.4M773.6 455.2h4.4M786.2 455.2h4.4M798.7 455.2h4.4M811.3 455.2h4.4M823.9 455.2h4.4M836.5 455.2h4.4M849.1 455.2h4.4M861.7 455.2h4.4M874.3 455.2h4.4M886.8 455.2h4.4M899.4 455.2h4.4M912.0 455.2h4.4M924.6 455.2h4.4M937.2 455.2h4.4M949.8 455.2h4.4M962.4 455.2h4.4M974.9 455.2h4.4M987.5 455.2h4.4M1000.1 455.2h4.4M1012.7 455.2h4.4M1025.3 455.2h4.4M1037.9 455.2h4.4M1050.4 455.2h4.4M1063.0 455.2h4.4M1075.6 455.2h4.4M1088.2 455.2h4.4M1100.8 455.2h4.4M1113.4 455.2h4.4M1126.0 455.2h4.4M1138.5 455.2h4.4M1151.1 455.2h4.4M1163.7 455.2h4.4M1176.3 455.2h4.4M1188.9 455.2h4.4M1201.5 455.2h4.4M1214.1 455.2h4.4M1226.6 455.2h4.4M1239.2 455.2h4.4M1251.8 455.2h4.4M1264.4 455.2h4.4M1277.0 455.2h4.4M1289.6 455.2h4.4M1302.1 455.2h4.4M1314.7 455.2h4.4M1327.3 455.2h4.4M81.4 489.1h4.4M94.0 489.1h4.4M106.6 489.1h4.4M119.2 489.1h4.4M131.7 489.1h4.4M144.3 489.1h4.4M156.9 489.1h4.4M169.5 489.1h4.4M182.1 489.1h4.4M194.7 489.1h4.4M207.3 489.1h4.4M219.8 489.1h4.4M232.4 489.1h4.4M245.0 489.1h4.4M257.6 489.1h4.4M270.2 489.1h4.4M282.8 489.1h4.4M295.3 489.1h4.4M307.9 489.1h4.4M320.5 489.1h4.4M333.1 489.1h4.4M345.7 489.1h4.4M358.3 489.1h4.4M370.9 489.1h4.4M383.4 489.1h4.4M396.0 489.1h4.4M408.6 489.1h4.4M421.2 489.1h4.4M433.8 489.1h4.4M446.4 489.1h4.4M458.9 489.1h4.4M471.5 489.1h4.4M484.1 489.1h4.4M496.7 489.1h4.4M509.3 489.1h4.4M521.9 489.1h4.4M534.5 489.1h4.4M547.0 489.1h4.4M559.6 489.1h4.4M572.2 489.1h4.4M584.8 489.1h4.4M597.4 489.1h4.4M610.0 489.1h4.4M622.6 489.1h4.4M635.1 489.1h4.4M647.7 489.1h4.4M660.3 489.1h4.4M672.9 489.1h4.4M685.5 489.1h4.4M698.1 489.1h4.4M710.7 489.1h4.4M723.2 489.1h4.4M735.8 489.1h4.4M748.4 489.1h4.4M761.0 489.1h4.4M773.6 489.1h4.4M786.2 489.1h4.4M798.7 489.1h4.4M811.3 489.1h4.4M823.9 489.1h4.4M836.5 489.1h4.4M849.1 489.1h4.4M861.7 489.1h4.4M874.3 489.1h4.4M886.8 489.1h4.4M899.4 489.1h4.4M912.0 489.1h4.4M924.6 489.1h4.4M937.2 489.1h4.4M949.8 489.1h4.4M962.4 489.1h4.4M974.9 489.1h4.4M987.5 489.1h4.4M1000.1 489.1h4.4M1012.7 489.1h4.4M1025.3 489.1h4.4M1037.9 489.1h4.4M1050.4 489.1h4.4M1063.0 489.1h4.4M1075.6 489.1h4.4M1088.2 489.1h4.4M1100.8 489.1h4.4M1113.4 489.1h4.4M1126.0 489.1h4.4M1138.5 489.1h4.4M1151.1 489.1h4.4M1163.7 489.1h4.4M1176.3 489.1h4.4M1188.9 489.1h4.4M1201.5 489.1h4.4M1214.1 489.1h4.4M1226.6 489.1h4.4M1239.2 489.1h4.4M1251.8 489.1h4.4M1264.4 489.1h4.4M1277.0 489.1h4.4M1289.6 489.1h4.4M1302.1 489.1h4.4M1314.7 489.1h4.4M1327.3 489.1h4.4M81.4 523.0h4.4M94.0 523.0h4.4M106.6 523.0h4.4M119.2 523.0h4.4M131.7 523.0h4.4M144.3 523.0h4.4M156.9 523.0h4.4M169.5 523.0h4.4M182.1 523.0h4.4M194.7 523.0h4.4M207.3 523.0h4.4M219.8 523.0h4.4M232.4 523.0h4.4M245.0 523.0h4.4M257.6 523.0h4.4M270.2 523.0h4.4M282.8 523.0h4.4M295.3 523.0h4.4M307.9 523.0h4.4M320.5 523.0h4.4M333.1 523.0h4.4M345.7 523.0h4.4M358.3 523.0h4.4M370.9 523.0h4.4M383.4 523.0h4.4M396.0 523.0h4.4M408.6 523.0h4.4M421.2 523.0h4.4M433.8 523.0h4.4M446.4 523.0h4.4M458.9 523.0h4.4M471.5 523.0h4.4M484.1 523.0h4.4M496.7 523.0h4.4M509.3 523.0h4.4M521.9 523.0h4.4M534.5 523.0h4.4M547.0 523.0h4.4M559.6 523.0h4.4M572.2 523.0h4.4M584.8 523.0h4.4M597.4 523.0h4.4M610.0 523.0h4.4M622.6 523.0h4.4M635.1 523.0h4.4M647.7 523.0h4.4M660.3 523.0h4.4M672.9 523.0h4.4M685.5 523.0h4.4M698.1 523.0h4.4M710.7 523.0h4.4M723.2 523.0h4.4M735.8 523.0h4.4M748.4 523.0h4.4M761.0 523.0h4.4M773.6 523.0h4.4M786.2 523.0h4.4M798.7 523.0h4.4M811.3 523.0h4.4M823.9 523.0h4.4M836.5 523.0h4.4M849.1 523.0h4.4M861.7 523.0h4.4M874.3 523.0h4.4M886.8 523.0h4.4M899.4 523.0h4.4M912.0 523.0h4.4M924.6 523.0h4.4M937.2 523.0h4.4M949.8 523.0h4.4M962.4 523.0h4.4M974.9 523.0h4.4M987.5 523.0h4.4M1000.1 523.0h4.4M1012.7 523.0h4.4M1025.3 523.0h4.4M1037.9 523.0h4.4M1050.4 523.0h4.4M1063.0 523.0h4.4M1075.6 523.0h4.4M1088.2 523.0h4.4M1100.8 523.0h4.4M1113.4 523.0h4.4M1126.0 523.0h4.4M1138.5 523.0h4.4M1151.1 523.0h4.4M1163.7 523.0h4.4M1176.3 523.0h4.4M1188.9 523.0h4.4M1201.5 523.0h4.4M1214.1 523.0h4.4M1226.6 523.0h4.4M1239.2 523.0h4.4M1251.8 523.0h4.4M1264.4 523.0h4.4M1277.0 523.0h4.4M1289.6 523.0h4.4M1302.1 523.0h4.4M1314.7 523.0h4.4M1327.3 523.0h4.4M81.4 556.9h4.4M94.0 556.9h4.4M106.6 556.9h4.4M119.2 556.9h4.4M131.7 556.9h4.4M144.3 556.9h4.4M156.9 556.9h4.4M169.5 556.9h4.4M182.1 556.9h4.4M194.7 556.9h4.4M207.3 556.9h4.4M219.8 556.9h4.4M232.4 556.9h4.4M245.0 556.9h4.4M257.6 556.9h4.4M270.2 556.9h4.4M282.8 556.9h4.4M295.3 556.9h4.4M307.9 556.9h4.4M320.5 556.9h4.4M333.1 556.9h4.4M345.7 556.9h4.4M358.3 556.9h4.4M370.9 556.9h4.4M383.4 556.9h4.4M396.0 556.9h4.4M408.6 556.9h4.4M421.2 556.9h4.4M433.8 556.9h4.4M446.4 556.9h4.4M458.9 556.9h4.4M471.5 556.9h4.4M484.1 556.9h4.4M496.7 556.9h4.4M509.3 556.9h4.4M521.9 556.9h4.4M534.5 556.9h4.4M547.0 556.9h4.4M559.6 556.9h4.4M572.2 556.9h4.4M584.8 556.9h4.4M597.4 556.9h4.4M610.0 556.9h4.4M622.6 556.9h4.4M635.1 556.9h4.4M647.7 556.9h4.4M660.3 556.9h4.4M672.9 556.9h4.4M685.5 556.9h4.4M698.1 556.9h4.4M710.7 556.9h4.4M723.2 556.9h4.4M735.8 556.9h4.4M748.4 556.9h4.4M761.0 556.9h4.4M773.6 556.9h4.4M786.2 556.9h4.4M798.7 556.9h4.4M811.3 556.9h4.4M823.9 556.9h4.4M836.5 556.9h4.4M849.1 556.9h4.4M861.7 556.9h4.4M874.3 556.9h4.4M886.8 556.9h4.4M899.4 556.9h4.4M912.0 556.9h4.4M924.6 556.9h4.4M937.2 556.9h4.4M949.8 556.9h4.4M962.4 556.9h4.4M974.9 556.9h4.4M987.5 556.9h4.4M1000.1 556.9h4.4M1012.7 556.9h4.4M1025.3 556.9h4.4M1037.9 556.9h4.4M1050.4 556.9h4.4M1063.0 556.9h4.4M1075.6 556.9h4.4M1088.2 556.9h4.4M1100.8 556.9h4.4M1113.4 556.9h4.4M1126.0 556.9h4.4M1138.5 556.9h4.4M1151.1 556.9h4.4M1163.7 556.9h4.4M1176.3 556.9h4.4M1188.9 556.9h4.4M1201.5 556.9h4.4M1214.1 556.9h4.4M1226.6 556.9h4.4M1239.2 556.9h4.4M1251.8 556.9h4.4M1264.4 556.9h4.4M1277.0 556.9h4.4M1289.6 556.9h4.4M1302.1 556.9h4.4M1314.7 556.9h4.4M1327.3 556.9h4.4M81.4 590.8h4.4M94.0 590.8h4.4M106.6 590.8h4.4M119.2 590.8h4.4M131.7 590.8h4.4M144.3 590.8h4.4M156.9 590.8h4.4M169.5 590.8h4.4M182.1 590.8h4.4M194.7 590.8h4.4M207.3 590.8h4.4M219.8 590.8h4.4M232.4 590.8h4.4M245.0 590.8h4.4M257.6 590.8h4.4M270.2 590.8h4.4M282.8 590.8h4.4M295.3 590.8h4.4M307.9 590.8h4.4M320.5 590.8h4.4M333.1 590.8h4.4M345.7 590.8h4.4M358.3 590.8h4.4M370.9 590.8h4.4M383.4 590.8h4.4M396.0 590.8h4.4M408.6 590.8h4.4M421.2 590.8h4.4M433.8 590.8h4.4M446.4 590.8h4.4M458.9 590.8h4.4M471.5 590.8h4.4M484.1 590.8h4.4M496.7 590.8h4.4M509.3 590.8h4.4M521.9 590.8h4.4M534.5 590.8h4.4M547.0 590.8h4.4M559.6 590.8h4.4M572.2 590.8h4.4M584.8 590.8h4.4M597.4 590.8h4.4M610.0 590.8h4.4M622.6 590.8h4.4M635.1 590.8h4.4M647.7 590.8h4.4M660.3 590.8h4.4M672.9 590.8h4.4M685.5 590.8h4.4M698.1 590.8h4.4M710.7 590.8h4.4M723.2 590.8h4.4M735.8 590.8h4.4M748.4 590.8h4.4M761.0 590.8h4.4M773.6 590.8h4.4M786.2 590.8h4.4M798.7 590.8h4.4M811.3 590.8h4.4M823.9 590.8h4.4M836.5 590.8h4.4M849.1 590.8h4.4M861.7 590.8h4.4M874.3 590.8h4.4M886.8 590.8h4.4M899.4 590.8h4.4M912.0 590.8h4.4M924.6 590.8h4.4M937.2 590.8h4.4M949.8 590.8h4.4M962.4 590.8h4.4M974.9 590.8h4.4M987.5 590.8h4.4M1000.1 590.8h4.4M1012.7 590.8h4.4M1025.3 590.8h4.4M1037.9 590.8h4.4M1050.4 590.8h4.4M1063.0 590.8h4.4M1075.6 590.8h4.4M1088.2 590.8h4.4M1100.8 590.8h4.4M1113.4 590.8h4.4M1126.0 590.8h4.4M1138.5 590.8h4.4M1151.1 590.8h4.4M1163.7 590.8h4.4M1176.3 590.8h4.4M1188.9 590.8h4.4M1201.5 590.8h4.4M1214.1 590.8h4.4M1226.6 590.8h4.4M1239.2 590.8h4.4M1251.8 590.8h4.4M1264.4 590.8h4.4M1277.0 590.8h4.4M1289.6 590.8h4.4M1302.1 590.8h4.4M1314.7 590.8h4.4M1327.3 590.8h4.4M81.4 624.7h4.4M94.0 624.7h4.4M106.6 624.7h4.4M119.2 624.7h4.4M131.7 624.7h4.4M144.3 624.7h4.4M156.9 624.7h4.4M169.5 624.7h4.4M182.1 624.7h4.4M194.7 624.7h4.4M207.3 624.7h4.4M219.8 624.7h4.4M232.4 624.7h4.4M245.0 624.7h4.4M257.6 624.7h4.4M270.2 624.7h4.4M282.8 624.7h4.4M295.3 624.7h4.4M307.9 624.7h4.4M320.5 624.7h4.4M333.1 624.7h4.4M345.7 624.7h4.4M358.3 624.7h4.4M370.9 624.7h4.4M383.4 624.7h4.4M396.0 624.7h4.4M408.6 624.7h4.4M421.2 624.7h4.4M433.8 624.7h4.4M446.4 624.7h4.4M458.9 624.7h4.4M471.5 624.7h4.4M484.1 624.7h4.4M496.7 624.7h4.4M509.3 624.7h4.4M521.9 624.7h4.4M534.5 624.7h4.4M547.0 624.7h4.4M559.6 624.7h4.4M572.2 624.7h4.4M584.8 624.7h4.4M597.4 624.7h4.4M610.0 624.7h4.4M622.6 624.7h4.4M635.1 624.7h4.4M647.7 624.7h4.4M660.3 624.7h4.4M672.9 624.7h4.4M685.5 624.7h4.4M698.1 624.7h4.4M710.7 624.7h4.4M723.2 624.7h4.4M735.8 624.7h4.4M748.4 624.7h4.4M761.0 624.7h4.4M773.6 624.7h4.4M786.2 624.7h4.4M798.7 624.7h4.4M811.3 624.7h4.4M823.9 624.7h4.4M836.5 624.7h4.4M849.1 624.7h4.4M861.7 624.7h4.4M874.3 624.7h4.4M886.8 624.7h4.4M899.4 624.7h4.4M912.0 624.7h4.4M924.6 624.7h4.4M937.2 624.7h4.4M949.8 624.7h4.4M962.4 624.7h4.4M974.9 624.7h4.4M987.5 624.7h4.4M1000.1 624.7h4.4M1012.7 624.7h4.4M1025.3 624.7h4.4M1037.9 624.7h4.4M1050.4 624.7h4.4M1063.0 624.7h4.4M1075.6 624.7h4.4M1088.2 624.7h4.4M1100.8 624.7h4.4M1113.4 624.7h4.4M1126.0 624.7h4.4M1138.5 624.7h4.4M1151.1 624.7h4.4M1163.7 624.7h4.4M1176.3 624.7h4.4M1188.9 624.7h4.4M1201.5 624.7h4.4M1214.1 624.7h4.4M1226.6 624.7h4.4M1239.2 624.7h4.4M1251.8 624.7h4.4M1264.4 624.7h4.4M1277.0 624.7h4.4M1289.6 624.7h4.4M1302.1 624.7h4.4M1314.7 624.7h4.4M1327.3 624.7h4.4M81.4 658.6h4.4M94.0 658.6h4.4M106.6 658.6h4.4M119.2 658.6h4.4M131.7 658.6h4.4M144.3 658.6h4.4M156.9 658.6h4.4M169.5 658.6h4.4M182.1 658.6h4.4M194.7 658.6h4.4M207.3 658.6h4.4M219.8 658.6h4.4M232.4 658.6h4.4M245.0 658.6h4.4M257.6 658.6h4.4M270.2 658.6h4.4M282.8 658.6h4.4M295.3 658.6h4.4M307.9 658.6h4.4M320.5 658.6h4.4M333.1 658.6h4.4M345.7 658.6h4.4M358.3 658.6h4.4M370.9 658.6h4.4M383.4 658.6h4.4M396.0 658.6h4.4M408.6 658.6h4.4M421.2 658.6h4.4M433.8 658.6h4.4M446.4 658.6h4.4M458.9 658.6h4.4M471.5 658.6h4.4M484.1 658.6h4.4M496.7 658.6h4.4M509.3 658.6h4.4M521.9 658.6h4.4M534.5 658.6h4.4M547.0 658.6h4.4M559.6 658.6h4.4M572.2 658.6h4.4M584.8 658.6h4.4M597.4 658.6h4.4M610.0 658.6h4.4M622.6 658.6h4.4M635.1 658.6h4.4M647.7 658.6h4.4M660.3 658.6h4.4M672.9 658.6h4.4M685.5 658.6h4.4M698.1 658.6h4.4M710.7 658.6h4.4M723.2 658.6h4.4M735.8 658.6h4.4M748.4 658.6h4.4M761.0 658.6h4.4M773.6 658.6h4.4M786.2 658.6h4.4M798.7 658.6h4.4M811.3 658.6h4.4M823.9 658.6h4.4M836.5 658.6h4.4M849.1 658.6h4.4M861.7 658.6h4.4M874.3 658.6h4.4M886.8 658.6h4.4M899.4 658.6h4.4M912.0 658.6h4.4M924.6 658.6h4.4M937.2 658.6h4.4M949.8 658.6h4.4M962.4 658.6h4.4M974.9 658.6h4.4M987.5 658.6h4.4M1000.1 658.6h4.4M1012.7 658.6h4.4M1025.3 658.6h4.4M1037.9 658.6h4.4M1050.4 658.6h4.4M1063.0 658.6h4.4M1075.6 658.6h4.4M1088.2 658.6h4.4M1100.8 658.6h4.4M1113.4 658.6h4.4M1126.0 658.6h4.4M1138.5 658.6h4.4M1151.1 658.6h4.4M1163.7 658.6h4.4M1176.3 658.6h4.4M1188.9 658.6h4.4M1201.5 658.6h4.4M1214.1 658.6h4.4M1226.6 658.6h4.4M1239.2 658.6h4.4M1251.8 658.6h4.4M1264.4 658.6h4.4M1277.0 658.6h4.4M1289.6 658.6h4.4M1302.1 658.6h4.4M1314.7 658.6h4.4M1327.3 658.6h4.4M81.4 692.5h4.4M94.0 692.5h4.4M106.6 692.5h4.4M119.2 692.5h4.4M131.7 692.5h4.4M144.3 692.5h4.4M156.9 692.5h4.4M169.5 692.5h4.4M182.1 692.5h4.4M194.7 692.5h4.4M207.3 692.5h4.4M219.8 692.5h4.4M232.4 692.5h4.4M245.0 692.5h4.4M257.6 692.5h4.4M270.2 692.5h4.4M282.8 692.5h4.4M295.3 692.5h4.4M307.9 692.5h4.4M320.5 692.5h4.4M333.1 692.5h4.4M345.7 692.5h4.4M358.3 692.5h4.4M370.9 692.5h4.4M383.4 692.5h4.4M396.0 692.5h4.4M408.6 692.5h4.4M421.2 692.5h4.4M433.8 692.5h4.4M446.4 692.5h4.4M458.9 692.5h4.4M471.5 692.5h4.4M484.1 692.5h4.4M496.7 692.5h4.4M509.3 692.5h4.4M521.9 692.5h4.4M534.5 692.5h4.4M547.0 692.5h4.4M559.6 692.5h4.4M572.2 692.5h4.4M584.8 692.5h4.4M597.4 692.5h4.4M610.0 692.5h4.4M622.6 692.5h4.4M635.1 692.5h4.4M647.7 692.5h4.4M660.3 692.5h4.4M672.9 692.5h4.4M685.5 692.5h4.4M698.1 692.5h4.4M710.7 692.5h4.4M723.2 692.5h4.4M735.8 692.5h4.4M748.4 692.5h4.4M761.0 692.5h4.4M773.6 692.5h4.4M786.2 692.5h4.4M798.7 692.5h4.4M811.3 692.5h4.4M823.9 692.5h4.4M836.5 692.5h4.4M849.1 692.5h4.4M861.7 692.5h4.4M874.3 692.5h4.4M886.8 692.5h4.4M899.4 692.5h4.4M912.0 692.5h4.4M924.6 692.5h4.4M937.2 692.5h4.4M949.8 692.5h4.4M962.4 692.5h4.4M974.9 692.5h4.4M987.5 692.5h4.4M1000.1 692.5h4.4M1012.7 692.5h4.4M1025.3 692.5h4.4M1037.9 692.5h4.4M1050.4 692.5h4.4M1063.0 692.5h4.4M1075.6 692.5h4.4M1088.2 692.5h4.4M1100.8 692.5h4.4M1113.4 692.5h4.4M1126.0 692.5h4.4M1138.5 692.5h4.4M1151.1 692.5h4.4M1163.7 692.5h4.4M1176.3 692.5h4.4M1188.9 692.5h4.4M1201.5 692.5h4.4M1214.1 692.5h4.4M1226.6 692.5h4.4M1239.2 692.5h4.4M1251.8 692.5h4.4M1264.4 692.5h4.4M1277.0 692.5h4.4M1289.6 692.5h4.4M1302.1 692.5h4.4M1314.7 692.5h4.4M1327.3 692.5h4.4M81.4 726.4h4.4M94.0 726.4h4.4M106.6 726.4h4.4M119.2 726.4h4.4M131.7 726.4h4.4M144.3 726.4h4.4M156.9 726.4h4.4M169.5 726.4h4.4M182.1 726.4h4.4M194.7 726.4h4.4M207.3 726.4h4.4M219.8 726.4h4.4M232.4 726.4h4.4M245.0 726.4h4.4M257.6 726.4h4.4M270.2 726.4h4.4M282.8 726.4h4.4M295.3 726.4h4.4M307.9 726.4h4.4M320.5 726.4h4.4M333.1 726.4h4.4M345.7 726.4h4.4M358.3 726.4h4.4M370.9 726.4h4.4M383.4 726.4h4.4M396.0 726.4h4.4M408.6 726.4h4.4M421.2 726.4h4.4M433.8 726.4h4.4M446.4 726.4h4.4M458.9 726.4h4.4M471.5 726.4h4.4M484.1 726.4h4.4M496.7 726.4h4.4M509.3 726.4h4.4M521.9 726.4h4.4M534.5 726.4h4.4M547.0 726.4h4.4M559.6 726.4h4.4M572.2 726.4h4.4M584.8 726.4h4.4M597.4 726.4h4.4M610.0 726.4h4.4M622.6 726.4h4.4M635.1 726.4h4.4M647.7 726.4h4.4M660.3 726.4h4.4M672.9 726.4h4.4M685.5 726.4h4.4M698.1 726.4h4.4M710.7 726.4h4.4M723.2 726.4h4.4M735.8 726.4h4.4M748.4 726.4h4.4M761.0 726.4h4.4M773.6 726.4h4.4M786.2 726.4h4.4M798.7 726.4h4.4M811.3 726.4h4.4M823.9 726.4h4.4M836.5 726.4h4.4M849.1 726.4h4.4M861.7 726.4h4.4M874.3 726.4h4.4M886.8 726.4h4.4M899.4 726.4h4.4M912.0 726.4h4.4M924.6 726.4h4.4M937.2 726.4h4.4M949.8 726.4h4.4M962.4 726.4h4.4M974.9 726.4h4.4M987.5 726.4h4.4M1000.1 726.4h4.4M1012.7 726.4h4.4M1025.3 726.4h4.4M1037.9 726.4h4.4M1050.4 726.4h4.4M1063.0 726.4h4.4M1075.6 726.4h4.4M1088.2 726.4h4.4M1100.8 726.4h4.4M1113.4 726.4h4.4M1126.0 726.4h4.4M1138.5 726.4h4.4M1151.1 726.4h4.4M1163.7 726.4h4.4M1176.3 726.4h4.4M1188.9 726.4h4.4M1201.5 726.4h4.4M1214.1 726.4h4.4M1226.6 726.4h4.4M1239.2 726.4h4.4M1251.8 726.4h4.4M1264.4 726.4h4.4M1277.0 726.4h4.4M1289.6 726.4h4.4M1302.1 726.4h4.4M1314.7 726.4h4.4M1327.3 726.4h4.4M81.4 760.3h4.4M94.0 760.3h4.4M106.6 760.3h4.4M119.2 760.3h4.4M131.7 760.3h4.4M144.3 760.3h4.4M156.9 760.3h4.4M169.5 760.3h4.4M182.1 760.3h4.4M194.7 760.3h4.4M207.3 760.3h4.4M219.8 760.3h4.4M232.4 760.3h4.4M245.0 760.3h4.4M257.6 760.3h4.4M270.2 760.3h4.4M282.8 760.3h4.4M295.3 760.3h4.4M307.9 760.3h4.4M320.5 760.3h4.4M333.1 760.3h4.4M345.7 760.3h4.4M358.3 760.3h4.4M370.9 760.3h4.4M383.4 760.3h4.4M396.0 760.3h4.4M408.6 760.3h4.4M421.2 760.3h4.4M433.8 760.3h4.4M446.4 760.3h4.4M458.9 760.3h4.4M471.5 760.3h4.4M484.1 760.3h4.4M496.7 760.3h4.4M509.3 760.3h4.4M521.9 760.3h4.4M534.5 760.3h4.4M547.0 760.3h4.4M559.6 760.3h4.4M572.2 760.3h4.4M584.8 760.3h4.4M597.4 760.3h4.4M610.0 760.3h4.4M622.6 760.3h4.4M635.1 760.3h4.4M647.7 760.3h4.4M660.3 760.3h4.4M672.9 760.3h4.4M685.5 760.3h4.4M698.1 760.3h4.4M710.7 760.3h4.4M723.2 760.3h4.4M735.8 760.3h4.4M748.4 760.3h4.4M761.0 760.3h4.4M773.6 760.3h4.4M786.2 760.3h4.4M798.7 760.3h4.4M811.3 760.3h4.4M823.9 760.3h4.4M836.5 760.3h4.4M849.1 760.3h4.4M861.7 760.3h4.4M874.3 760.3h4.4M886.8 760.3h4.4M899.4 760.3h4.4M912.0 760.3h4.4M924.6 760.3h4.4M937.2 760.3h4.4M949.8 760.3h4.4M962.4 760.3h4.4M974.9 760.3h4.4M987.5 760.3h4.4M1000.1 760.3h4.4M1012.7 760.3h4.4M1025.3 760.3h4.4M1037.9 760.3h4.4M1050.4 760.3h4.4M1063.0 760.3h4.4M1075.6 760.3h4.4M1088.2 760.3h4.4M1100.8 760.3h4.4M1113.4 760.3h4.4M1126.0 760.3h4.4M1138.5 760.3h4.4M1151.1 760.3h4.4M1163.7 760.3h4.4M1176.3 760.3h4.4M1188.9 760.3h4.4M1201.5 760.3h4.4M1214.1 760.3h4.4M1226.6 760.3h4.4M1239.2 760.3h4.4M1251.8 760.3h4.4M1264.4 760.3h4.4M1277.0 760.3h4.4M1289.6 760.3h4.4M1302.1 760.3h4.4M1314.7 760.3h4.4M1327.3 760.3h4.4M81.4 794.2h4.4M94.0 794.2h4.4M106.6 794.2h4.4M119.2 794.2h4.4M131.7 794.2h4.4M144.3 794.2h4.4M156.9 794.2h4.4M169.5 794.2h4.4M182.1 794.2h4.4M194.7 794.2h4.4M207.3 794.2h4.4M219.8 794.2h4.4M232.4 794.2h4.4M245.0 794.2h4.4M257.6 794.2h4.4M270.2 794.2h4.4M282.8 794.2h4.4M295.3 794.2h4.4M307.9 794.2h4.4M320.5 794.2h4.4M333.1 794.2h4.4M345.7 794.2h4.4M358.3 794.2h4.4M370.9 794.2h4.4M383.4 794.2h4.4M396.0 794.2h4.4M408.6 794.2h4.4M421.2 794.2h4.4M433.8 794.2h4.4M446.4 794.2h4.4M458.9 794.2h4.4M471.5 794.2h4.4M484.1 794.2h4.4M496.7 794.2h4.4M509.3 794.2h4.4M521.9 794.2h4.4M534.5 794.2h4.4M547.0 794.2h4.4M559.6 794.2h4.4M572.2 794.2h4.4M584.8 794.2h4.4M597.4 794.2h4.4M610.0 794.2h4.4M622.6 794.2h4.4M635.1 794.2h4.4M647.7 794.2h4.4M660.3 794.2h4.4M672.9 794.2h4.4M685.5 794.2h4.4M698.1 794.2h4.4M710.7 794.2h4.4M723.2 794.2h4.4M735.8 794.2h4.4M748.4 794.2h4.4M761.0 794.2h4.4M773.6 794.2h4.4M786.2 794.2h4.4M798.7 794.2h4.4M811.3 794.2h4.4M823.9 794.2h4.4M836.5 794.2h4.4M849.1 794.2h4.4M861.7 794.2h4.4M874.3 794.2h4.4M886.8 794.2h4.4M899.4 794.2h4.4M912.0 794.2h4.4M924.6 794.2h4.4M937.2 794.2h4.4M949.8 794.2h4.4M962.4 794.2h4.4M974.9 794.2h4.4M987.5 794.2h4.4M1000.1 794.2h4.4M1012.7 794.2h4.4M1025.3 794.2h4.4M1037.9 794.2h4.4M1050.4 794.2h4.4M1063.0 794.2h4.4M1075.6 794.2h4.4M1088.2 794.2h4.4M1100.8 794.2h4.4M1113.4 794.2h4.4M1126.0 794.2h4.4M1138.5 794.2h4.4M1151.1 794.2h4.4M1163.7 794.2h4.4M1176.3 794.2h4.4M1188.9 794.2h4.4M1201.5 794.2h4.4M1214.1 794.2h4.4M1226.6 794.2h4.4M1239.2 794.2h4.4M1251.8 794.2h4.4M1264.4 794.2h4.4M1277.0 794.2h4.4M1289.6 794.2h4.4M1302.1 794.2h4.4M1314.7 794.2h4.4M1327.3 794.2h4.4M81.4 828.2h4.4M94.0 828.2h4.4M106.6 828.2h4.4M119.2 828.2h4.4M131.7 828.2h4.4M144.3 828.2h4.4M156.9 828.2h4.4M169.5 828.2h4.4M182.1 828.2h4.4M194.7 828.2h4.4M207.3 828.2h4.4M219.8 828.2h4.4M232.4 828.2h4.4M245.0 828.2h4.4M257.6 828.2h4.4M270.2 828.2h4.4M282.8 828.2h4.4M295.3 828.2h4.4M307.9 828.2h4.4M320.5 828.2h4.4M333.1 828.2h4.4M345.7 828.2h4.4M358.3 828.2h4.4M370.9 828.2h4.4M383.4 828.2h4.4M396.0 828.2h4.4M408.6 828.2h4.4M421.2 828.2h4.4M433.8 828.2h4.4M446.4 828.2h4.4M458.9 828.2h4.4M471.5 828.2h4.4M484.1 828.2h4.4M496.7 828.2h4.4M509.3 828.2h4.4M521.9 828.2h4.4M534.5 828.2h4.4M547.0 828.2h4.4M559.6 828.2h4.4M572.2 828.2h4.4M584.8 828.2h4.4M597.4 828.2h4.4M610.0 828.2h4.4M622.6 828.2h4.4M635.1 828.2h4.4M647.7 828.2h4.4M660.3 828.2h4.4M672.9 828.2h4.4M685.5 828.2h4.4M698.1 828.2h4.4M710.7 828.2h4.4M723.2 828.2h4.4M735.8 828.2h4.4M748.4 828.2h4.4M761.0 828.2h4.4M773.6 828.2h4.4M786.2 828.2h4.4M798.7 828.2h4.4M811.3 828.2h4.4M823.9 828.2h4.4M836.5 828.2h4.4M849.1 828.2h4.4M861.7 828.2h4.4M874.3 828.2h4.4M886.8 828.2h4.4M899.4 828.2h4.4M912.0 828.2h4.4M924.6 828.2h4.4M937.2 828.2h4.4M949.8 828.2h4.4M962.4 828.2h4.4M974.9 828.2h4.4M987.5 828.2h4.4M1000.1 828.2h4.4M1012.7 828.2h4.4M1025.3 828.2h4.4M1037.9 828.2h4.4M1050.4 828.2h4.4M1063.0 828.2h4.4M1075.6 828.2h4.4M1088.2 828.2h4.4M1100.8 828.2h4.4M1113.4 828.2h4.4M1126.0 828.2h4.4M1138.5 828.2h4.4M1151.1 828.2h4.4M1163.7 828.2h4.4M1176.3 828.2h4.4M1188.9 828.2h4.4M1201.5 828.2h4.4M1214.1 828.2h4.4M1226.6 828.2h4.4M1239.2 828.2h4.4M1251.8 828.2h4.4M1264.4 828.2h4.4M1277.0 828.2h4.4M1289.6 828.2h4.4M1302.1 828.2h4.4M1314.7 828.2h4.4M1327.3 828.2h4.4M81.4 862.1h4.4M94.0 862.1h4.4M106.6 862.1h4.4M119.2 862.1h4.4M131.7 862.1h4.4M144.3 862.1h4.4M156.9 862.1h4.4M169.5 862.1h4.4M182.1 862.1h4.4M194.7 862.1h4.4M207.3 862.1h4.4M219.8 862.1h4.4M232.4 862.1h4.4M245.0 862.1h4.4M257.6 862.1h4.4M270.2 862.1h4.4M282.8 862.1h4.4M295.3 862.1h4.4M307.9 862.1h4.4M320.5 862.1h4.4M333.1 862.1h4.4M345.7 862.1h4.4M358.3 862.1h4.4M370.9 862.1h4.4M383.4 862.1h4.4M396.0 862.1h4.4M408.6 862.1h4.4M421.2 862.1h4.4M433.8 862.1h4.4M446.4 862.1h4.4M458.9 862.1h4.4M471.5 862.1h4.4M484.1 862.1h4.4M496.7 862.1h4.4M509.3 862.1h4.4M521.9 862.1h4.4M534.5 862.1h4.4M547.0 862.1h4.4M559.6 862.1h4.4M572.2 862.1h4.4M584.8 862.1h4.4M597.4 862.1h4.4M610.0 862.1h4.4M622.6 862.1h4.4M635.1 862.1h4.4M647.7 862.1h4.4M660.3 862.1h4.4M672.9 862.1h4.4M685.5 862.1h4.4M698.1 862.1h4.4M710.7 862.1h4.4M723.2 862.1h4.4M735.8 862.1h4.4M748.4 862.1h4.4M761.0 862.1h4.4M773.6 862.1h4.4M786.2 862.1h4.4M798.7 862.1h4.4M811.3 862.1h4.4M823.9 862.1h4.4M836.5 862.1h4.4M849.1 862.1h4.4M861.7 862.1h4.4M874.3 862.1h4.4M886.8 862.1h4.4M899.4 862.1h4.4M912.0 862.1h4.4M924.6 862.1h4.4M937.2 862.1h4.4M949.8 862.1h4.4M962.4 862.1h4.4M974.9 862.1h4.4M987.5 862.1h4.4M1000.1 862.1h4.4M1012.7 862.1h4.4M1025.3 862.1h4.4M1037.9 862.1h4.4M1050.4 862.1h4.4M1063.0 862.1h4.4M1075.6 862.1h4.4M1088.2 862.1h4.4M1100.8 862.1h4.4M1113.4 862.1h4.4M1126.0 862.1h4.4M1138.5 862.1h4.4M1151.1 862.1h4.4M1163.7 862.1h4.4M1176.3 862.1h4.4M1188.9 862.1h4.4M1201.5 862.1h4.4M1214.1 862.1h4.4M1226.6 862.1h4.4M1239.2 862.1h4.4M1251.8 862.1h4.4M1264.4 862.1h4.4M1277.0 862.1h4.4M1289.6 862.1h4.4M1302.1 862.1h4.4M1314.7 862.1h4.4M1327.3 862.1h4.4M81.4 896.0h4.4M94.0 896.0h4.4M106.6 896.0h4.4M119.2 896.0h4.4M131.7 896.0h4.4M144.3 896.0h4.4M156.9 896.0h4.4M169.5 896.0h4.4M182.1 896.0h4.4M194.7 896.0h4.4M207.3 896.0h4.4M219.8 896.0h4.4M232.4 896.0h4.4M245.0 896.0h4.4M257.6 896.0h4.4M270.2 896.0h4.4M282.8 896.0h4.4M295.3 896.0h4.4M307.9 896.0h4.4M320.5 896.0h4.4M333.1 896.0h4.4M345.7 896.0h4.4M358.3 896.0h4.4M370.9 896.0h4.4M383.4 896.0h4.4M396.0 896.0h4.4M408.6 896.0h4.4M421.2 896.0h4.4M433.8 896.0h4.4M446.4 896.0h4.4M458.9 896.0h4.4M471.5 896.0h4.4M484.1 896.0h4.4M496.7 896.0h4.4M509.3 896.0h4.4M521.9 896.0h4.4M534.5 896.0h4.4M547.0 896.0h4.4M559.6 896.0h4.4M572.2 896.0h4.4M584.8 896.0h4.4M597.4 896.0h4.4M610.0 896.0h4.4M622.6 896.0h4.4M635.1 896.0h4.4M647.7 896.0h4.4M660.3 896.0h4.4M672.9 896.0h4.4M685.5 896.0h4.4M698.1 896.0h4.4M710.7 896.0h4.4M723.2 896.0h4.4M735.8 896.0h4.4M748.4 896.0h4.4M761.0 896.0h4.4M773.6 896.0h4.4M786.2 896.0h4.4M798.7 896.0h4.4M811.3 896.0h4.4M823.9 896.0h4.4M836.5 896.0h4.4M849.1 896.0h4.4M861.7 896.0h4.4M874.3 896.0h4.4M886.8 896.0h4.4M899.4 896.0h4.4M912.0 896.0h4.4M924.6 896.0h4.4M937.2 896.0h4.4M949.8 896.0h4.4M962.4 896.0h4.4M974.9 896.0h4.4M987.5 896.0h4.4M1000.1 896.0h4.4M1012.7 896.0h4.4M1025.3 896.0h4.4M1037.9 896.0h4.4M1050.4 896.0h4.4M1063.0 896.0h4.4M1075.6 896.0h4.4M1088.2 896.0h4.4M1100.8 896.0h4.4M1113.4 896.0h4.4M1126.0 896.0h4.4M1138.5 896.0h4.4M1151.1 896.0h4.4M1163.7 896.0h4.4M1176.3 896.0h4.4M1188.9 896.0h4.4M1201.5 896.0h4.4M1214.1 896.0h4.4M1226.6 896.0h4.4M1239.2 896.0h4.4M1251.8 896.0h4.4M1264.4 896.0h4.4M1277.0 896.0h4.4M1289.6 896.0h4.4M1302.1 896.0h4.4M1314.7 896.0h4.4M1327.3 896.0h4.4M81.4 929.9h4.4M94.0 929.9h4.4M106.6 929.9h4.4M119.2 929.9h4.4M131.7 929.9h4.4M144.3 929.9h4.4M156.9 929.9h4.4M169.5 929.9h4.4M182.1 929.9h4.4M194.7 929.9h4.4M207.3 929.9h4.4M219.8 929.9h4.4M232.4 929.9h4.4M245.0 929.9h4.4M257.6 929.9h4.4M270.2 929.9h4.4M282.8 929.9h4.4M295.3 929.9h4.4M307.9 929.9h4.4M320.5 929.9h4.4M333.1 929.9h4.4M345.7 929.9h4.4M358.3 929.9h4.4M370.9 929.9h4.4M383.4 929.9h4.4M396.0 929.9h4.4M408.6 929.9h4.4M421.2 929.9h4.4M433.8 929.9h4.4M446.4 929.9h4.4M458.9 929.9h4.4M471.5 929.9h4.4M484.1 929.9h4.4M496.7 929.9h4.4M509.3 929.9h4.4M521.9 929.9h4.4M534.5 929.9h4.4M547.0 929.9h4.4M559.6 929.9h4.4M572.2 929.9h4.4M584.8 929.9h4.4M597.4 929.9h4.4M610.0 929.9h4.4M622.6 929.9h4.4M635.1 929.9h4.4M647.7 929.9h4.4M660.3 929.9h4.4M672.9 929.9h4.4M685.5 929.9h4.4M698.1 929.9h4.4M710.7 929.9h4.4M723.2 929.9h4.4M735.8 929.9h4.4M748.4 929.9h4.4M761.0 929.9h4.4M773.6 929.9h4.4M786.2 929.9h4.4M798.7 929.9h4.4M811.3 929.9h4.4M823.9 929.9h4.4M836.5 929.9h4.4M849.1 929.9h4.4M861.7 929.9h4.4M874.3 929.9h4.4M886.8 929.9h4.4M899.4 929.9h4.4M912.0 929.9h4.4M924.6 929.9h4.4M937.2 929.9h4.4M949.8 929.9h4.4M962.4 929.9h4.4M974.9 929.9h4.4M987.5 929.9h4.4M1000.1 929.9h4.4M1012.7 929.9h4.4M1025.3 929.9h4.4M1037.9 929.9h4.4M1050.4 929.9h4.4M1063.0 929.9h4.4M1075.6 929.9h4.4M1088.2 929.9h4.4M1100.8 929.9h4.4M1113.4 929.9h4.4M1126.0 929.9h4.4M1138.5 929.9h4.4M1151.1 929.9h4.4M1163.7 929.9h4.4M1176.3 929.9h4.4M1188.9 929.9h4.4M1201.5 929.9h4.4M1214.1 929.9h4.4M1226.6 929.9h4.4M1239.2 929.9h4.4M1251.8 929.9h4.4M1264.4 929.9h4.4M1277.0 929.9h4.4M1289.6 929.9h4.4M1302.1 929.9h4.4M1314.7 929.9h4.4M1327.3 929.9h4.4M81.4 963.8h4.4M94.0 963.8h4.4M106.6 963.8h4.4M119.2 963.8h4.4M131.7 963.8h4.4M144.3 963.8h4.4M156.9 963.8h4.4M169.5 963.8h4.4M182.1 963.8h4.4M194.7 963.8h4.4M207.3 963.8h4.4M219.8 963.8h4.4M232.4 963.8h4.4M245.0 963.8h4.4M257.6 963.8h4.4M270.2 963.8h4.4M282.8 963.8h4.4M295.3 963.8h4.4M307.9 963.8h4.4M320.5 963.8h4.4M333.1 963.8h4.4M345.7 963.8h4.4M358.3 963.8h4.4M370.9 963.8h4.4M383.4 963.8h4.4M396.0 963.8h4.4M408.6 963.8h4.4M421.2 963.8h4.4M433.8 963.8h4.4M446.4 963.8h4.4M458.9 963.8h4.4M471.5 963.8h4.4M484.1 963.8h4.4M496.7 963.8h4.4M509.3 963.8h4.4M521.9 963.8h4.4M534.5 963.8h4.4M547.0 963.8h4.4M559.6 963.8h4.4M572.2 963.8h4.4M584.8 963.8h4.4M597.4 963.8h4.4M610.0 963.8h4.4M622.6 963.8h4.4M635.1 963.8h4.4M647.7 963.8h4.4M660.3 963.8h4.4M672.9 963.8h4.4M685.5 963.8h4.4M698.1 963.8h4.4M710.7 963.8h4.4M723.2 963.8h4.4M735.8 963.8h4.4M748.4 963.8h4.4M761.0 963.8h4.4M773.6 963.8h4.4M786.2 963.8h4.4M798.7 963.8h4.4M811.3 963.8h4.4M823.9 963.8h4.4M836.5 963.8h4.4M849.1 963.8h4.4M861.7 963.8h4.4M874.3 963.8h4.4M886.8 963.8h4.4M899.4 963.8h4.4M912.0 963.8h4.4M924.6 963.8h4.4M937.2 963.8h4.4M949.8 963.8h4.4M962.4 963.8h4.4M974.9 963.8h4.4M987.5 963.8h4.4M1000.1 963.8h4.4M1012.7 963.8h4.4M1025.3 963.8h4.4M1037.9 963.8h4.4M1050.4 963.8h4.4M1063.0 963.8h4.4M1075.6 963.8h4.4M1088.2 963.8h4.4M1100.8 963.8h4.4M1113.4 963.8h4.4M1126.0 963.8h4.4M1138.5 963.8h4.4M1151.1 963.8h4.4M1163.7 963.8h4.4M1176.3 963.8h4.4M1188.9 963.8h4.4M1201.5 963.8h4.4M1214.1 963.8h4.4M1226.6 963.8h4.4M1239.2 963.8h4.4M1251.8 963.8h4.4M1264.4 963.8h4.4M1277.0 963.8h4.4M1289.6 963.8h4.4M1302.1 963.8h4.4M1314.7 963.8h4.4M1327.3 963.8h4.4M81.4 997.7h4.4M94.0 997.7h4.4M106.6 997.7h4.4M119.2 997.7h4.4M131.7 997.7h4.4M144.3 997.7h4.4M156.9 997.7h4.4M169.5 997.7h4.4M182.1 997.7h4.4M194.7 997.7h4.4M207.3 997.7h4.4M219.8 997.7h4.4M232.4 997.7h4.4M245.0 997.7h4.4M257.6 997.7h4.4M270.2 997.7h4.4M282.8 997.7h4.4M295.3 997.7h4.4M307.9 997.7h4.4M320.5 997.7h4.4M333.1 997.7h4.4M345.7 997.7h4.4M358.3 997.7h4.4M370.9 997.7h4.4M383.4 997.7h4.4M396.0 997.7h4.4M408.6 997.7h4.4M421.2 997.7h4.4M433.8 997.7h4.4M446.4 997.7h4.4M458.9 997.7h4.4M471.5 997.7h4.4M484.1 997.7h4.4M496.7 997.7h4.4M509.3 997.7h4.4M521.9 997.7h4.4M534.5 997.7h4.4M547.0 997.7h4.4M559.6 997.7h4.4M572.2 997.7h4.4M584.8 997.7h4.4M597.4 997.7h4.4M610.0 997.7h4.4M622.6 997.7h4.4M635.1 997.7h4.4M647.7 997.7h4.4M660.3 997.7h4.4M672.9 997.7h4.4M685.5 997.7h4.4M698.1 997.7h4.4M710.7 997.7h4.4M723.2 997.7h4.4M735.8 997.7h4.4M748.4 997.7h4.4M761.0 997.7h4.4M773.6 997.7h4.4M786.2 997.7h4.4M798.7 997.7h4.4M811.3 997.7h4.4M823.9 997.7h4.4M836.5 997.7h4.4M849.1 997.7h4.4M861.7 997.7h4.4M874.3 997.7h4.4M886.8 997.7h4.4M899.4 997.7h4.4M912.0 997.7h4.4M924.6 997.7h4.4M937.2 997.7h4.4M949.8 997.7h4.4M962.4 997.7h4.4M974.9 997.7h4.4M987.5 997.7h4.4M1000.1 997.7h4.4M1012.7 997.7h4.4M1025.3 997.7h4.4M1037.9 997.7h4.4M1050.4 997.7h4.4M1063.0 997.7h4.4M1075.6 997.7h4.4M1088.2 997.7h4.4M1100.8 997.7h4.4M1113.4 997.7h4.4M1126.0 997.7h4.4M1138.5 997.7h4.4M1151.1 997.7h4.4M1163.7 997.7h4.4M1176.3 997.7h4.4M1188.9 997.7h4.4M1201.5 997.7h4.4M1214.1 997.7h4.4M1226.6 997.7h4.4M1239.2 997.7h4.4M1251.8 997.7h4.4M1264.4 997.7h4.4M1277.0 997.7h4.4M1289.6 997.7h4.4M1302.1 997.7h4.4M1314.7 997.7h4.4M1327.3 997.7h4.4" stroke="#d4d4d4" stroke-width="1.8" fill="none"/>
<path d="M83.1 285.6H1341.8" stroke="#3a3a3a" stroke-width="2.4"/>
<path d="M1341.8 86.4V1004.5" stroke="#3a3a3a" stroke-width="2.4"/>
<path d="M83.6 285.6V298.6 M114.8 285.6V298.6 M146.0 285.6V298.6 M177.2 285.6V298.6 M208.3 285.6V298.6 M239.5 285.6V298.6 M270.7 285.6V298.6 M301.9 285.6V298.6 M333.1 285.6V298.6 M364.3 285.6V298.6 M395.4 285.6V298.6 M426.6 285.6V298.6 M457.8 285.6V298.6 M489.0 285.6V298.6 M520.2 285.6V298.6 M551.4 285.6V298.6 M582.6 285.6V298.6 M613.7 285.6V298.6 M644.9 285.6V298.6 M676.1 285.6V298.6 M707.3 285.6V298.6 M738.5 285.6V298.6 M769.7 285.6V298.6 M800.9 285.6V298.6 M832.0 285.6V298.6 M863.2 285.6V298.6 M894.4 285.6V298.6 M925.6 285.6V298.6 M956.8 285.6V298.6 M988.0 285.6V298.6 M1019.1 285.6V298.6 M1050.3 285.6V298.6 M1081.5 285.6V298.6 M1112.7 285.6V298.6 M1143.9 285.6V298.6 M1175.1 285.6V298.6 M1206.3 285.6V298.6 M1237.4 285.6V298.6 M1268.6 285.6V298.6 M1299.8 285.6V298.6 M1331.0 285.6V298.6 M1341.8 116.1H1355.3 M1341.8 150.0H1355.3 M1341.8 183.9H1355.3 M1341.8 217.8H1355.3 M1341.8 251.7H1355.3 M1341.8 285.6H1355.3 M1341.8 319.5H1355.3 M1341.8 353.4H1355.3 M1341.8 387.3H1355.3 M1341.8 421.2H1355.3 M1341.8 455.2H1355.3 M1341.8 489.1H1355.3 M1341.8 523.0H1355.3 M1341.8 556.9H1355.3 M1341.8 590.8H1355.3 M1341.8 624.7H1355.3 M1341.8 658.6H1355.3 M1341.8 692.5H1355.3 M1341.8 726.4H1355.3 M1341.8 760.3H1355.3 M1341.8 794.2H1355.3 M1341.8 828.2H1355.3 M1341.8 862.1H1355.3 M1341.8 896.0H1355.3 M1341.8 929.9H1355.3 M1341.8 963.8H1355.3 M1341.8 997.7H1355.3" stroke="#3a3a3a" stroke-width="2.2"/>
<text x="83.6" y="327.2" font-size="27" text-anchor="middle" fill="#333333">−2.85</text>
<text x="177.2" y="327.2" font-size="27" text-anchor="middle" fill="#333333">−2.70</text>
<text x="270.7" y="327.2" font-size="27" text-anchor="middle" fill="#333333">−2.55</text>
<text x="364.3" y="327.2" font-size="27" text-anchor="middle" fill="#333333">−2.40</text>
<text x="457.8" y="327.2" font-size="27" text-anchor="middle" fill="#333333">−2.25</text>
<text x="551.4" y="327.2" font-size="27" text-anchor="middle" fill="#333333">−2.10</text>
<text x="613.7" y="327.2" font-size="27" text-anchor="middle" fill="#333333">−2</text>
<text x="676.1" y="327.2" font-size="27" text-anchor="middle" fill="#333333">−1.90</text>
<text x="769.7" y="327.2" font-size="27" text-anchor="middle" fill="#333333">−1.75</text>
<text x="863.2" y="327.2" font-size="27" text-anchor="middle" fill="#333333">−1.60</text>
<text x="956.8" y="327.2" font-size="27" text-anchor="middle" fill="#333333">−1.45</text>
<text x="1050.3" y="327.2" font-size="27" text-anchor="middle" fill="#333333">−1.30</text>
<text x="1175.1" y="327.2" font-size="27" text-anchor="middle" fill="#333333">−1.10</text>
<text x="1237.4" y="327.2" font-size="27" text-anchor="middle" fill="#333333">−1</text>
<text x="1299.8" y="327.2" font-size="27" text-anchor="middle" fill="#333333">−0.90</text>
<text x="1357.8" y="125.1" font-size="27" fill="#333333">0.010</text>
<text x="1357.8" y="159.0" font-size="27" fill="#333333">0.008</text>
<text x="1357.8" y="192.9" font-size="27" fill="#333333">0.006</text>
<text x="1357.8" y="226.8" font-size="27" fill="#333333">0.004</text>
<text x="1357.8" y="260.7" font-size="27" fill="#333333">0.002</text>
<text x="1357.8" y="294.6" font-size="27" fill="#333333">0</text>
<text x="1435.8" y="328.5" font-size="27" text-anchor="end" fill="#333333">0.002</text>
<text x="1435.8" y="362.4" font-size="27" text-anchor="end" fill="#333333">0.004</text>
<text x="1435.8" y="396.3" font-size="27" text-anchor="end" fill="#333333">0.006</text>
<text x="1435.8" y="430.2" font-size="27" text-anchor="end" fill="#333333">0.008</text>
<text x="1435.8" y="464.2" font-size="27" text-anchor="end" fill="#333333">0.010</text>
<text x="1435.8" y="498.1" font-size="27" text-anchor="end" fill="#333333">0.012</text>
<text x="1435.8" y="532.0" font-size="27" text-anchor="end" fill="#333333">0.014</text>
<text x="1435.8" y="565.9" font-size="27" text-anchor="end" fill="#333333">0.016</text>
<text x="1435.8" y="599.8" font-size="27" text-anchor="end" fill="#333333">0.018</text>
<text x="1435.8" y="633.7" font-size="27" text-anchor="end" fill="#333333">0.020</text>
<text x="1435.8" y="667.6" font-size="27" text-anchor="end" fill="#333333">0.022</text>
<text x="1435.8" y="701.5" font-size="27" text-anchor="end" fill="#333333">0.024</text>
<text x="1435.8" y="735.4" font-size="27" text-anchor="end" fill="#333333">0.026</text>
<text x="1435.8" y="769.3" font-size="27" text-anchor="end" fill="#333333">0.028</text>
<text x="1435.8" y="803.2" font-size="27" text-anchor="end" fill="#333333">0.030</text>
<text x="1435.8" y="837.2" font-size="27" text-anchor="end" fill="#333333">0.032</text>
<text x="1435.8" y="871.1" font-size="27" text-anchor="end" fill="#333333">0.034</text>
<text x="1435.8" y="905.0" font-size="27" text-anchor="end" fill="#333333">0.036</text>
<text x="1435.8" y="938.9" font-size="27" text-anchor="end" fill="#333333">0.038</text>
<text x="1435.8" y="972.8" font-size="27" text-anchor="end" fill="#333333">0.040</text>
<text x="1435.8" y="1006.7" font-size="27" text-anchor="end" fill="#333333">0.042</text>
<path d="M1361.7 320.0H1372.9M1361.7 353.9H1372.9M1361.7 387.8H1372.9M1361.7 421.7H1372.9M1361.7 455.7H1372.9M1361.7 489.6H1372.9M1361.7 523.5H1372.9M1361.7 557.4H1372.9M1361.7 591.3H1372.9M1361.7 625.2H1372.9M1361.7 659.1H1372.9M1361.7 693.0H1372.9M1361.7 726.9H1372.9M1361.7 760.8H1372.9M1361.7 794.8H1372.9M1361.7 828.7H1372.9M1361.7 862.6H1372.9M1361.7 896.5H1372.9M1361.7 930.4H1372.9M1361.7 964.3H1372.9M1361.7 998.2H1372.9" stroke="#333333" stroke-width="1.6"/>
<path d="M1082.4 285.6a7.0 7.0 0 1 0 14.0 0a7.0 7.0 0 1 0 -14.0 0ZM1118.9 285.6a7.0 7.0 0 1 0 14.0 0a7.0 7.0 0 1 0 -14.0 0ZM1150.4 285.6a7.0 7.0 0 1 0 14.0 0a7.0 7.0 0 1 0 -14.0 0ZM1179.3 285.6a7.0 7.0 0 1 0 14.0 0a7.0 7.0 0 1 0 -14.0 0ZM1205.7 285.6a7.0 7.0 0 1 0 14.0 0a7.0 7.0 0 1 0 -14.0 0ZM1230.4 285.6a7.0 7.0 0 1 0 14.0 0a7.0 7.0 0 1 0 -14.0 0ZM1253.3 285.6a7.0 7.0 0 1 0 14.0 0a7.0 7.0 0 1 0 -14.0 0ZM1274.6 285.6a7.0 7.0 0 1 0 14.0 0a7.0 7.0 0 1 0 -14.0 0ZM1294.2 285.6a7.0 7.0 0 1 0 14.0 0a7.0 7.0 0 1 0 -14.0 0ZM1313.7 285.6a7.0 7.0 0 1 0 14.0 0a7.0 7.0 0 1 0 -14.0 0ZM1331.6 285.6a7.0 7.0 0 1 0 14.0 0a7.0 7.0 0 1 0 -14.0 0ZM892.6 281.8H905.0V294.2H892.6ZM914.3 281.4H926.7V293.8H914.3ZM935.8 281.1H948.2V293.5H935.8ZM957.6 280.8H970.0V293.2H957.6ZM979.1 280.6H991.5V293.0H979.1ZM1000.5 280.4H1012.9V292.8H1000.5ZM1022.0 280.3H1034.4V292.7H1022.0ZM1043.5 280.2H1055.9V292.6H1043.5Z" fill="#0a0a0a" fill-opacity="0.85" stroke="none"/>
<path d="M76.8 674.7H90.2V688.1H76.8ZM114.9 631.0H128.3V644.4H114.9ZM152.6 596.1H166.0V609.5H152.6ZM186.6 568.5H200.0V581.9H186.6ZM220.3 545.9H233.7V559.3H220.3ZM252.4 527.2H265.8V540.6H252.4ZM283.8 511.9H297.2V525.3H283.8ZM313.1 499.0H326.5V512.4H313.1ZM342.2 488.3H355.6V501.7H342.2ZM370.1 477.9H383.5V491.3H370.1ZM396.8 469.4H410.2V482.8H396.8ZM424.7 459.7H438.1V473.1H424.7ZM449.9 450.3H463.3V463.7H449.9ZM476.5 437.8H489.9V451.2H476.5ZM501.5 424.2H514.9V437.6H501.5ZM526.8 407.4H540.2V420.8H526.8ZM550.8 388.3H564.2V401.7H550.8ZM574.7 367.7H588.1V381.1H574.7ZM599.2 349.3H612.6V362.7H599.2ZM622.5 333.3H635.9V346.7H622.5ZM645.7 320.5H659.1V333.9H645.7ZM669.0 311.3H682.4V324.7H669.0ZM692.1 300.8H705.5V314.2H692.1ZM714.9 296.3H728.3V309.7H714.9ZM737.6 291.7H751.0V305.1H737.6ZM759.8 287.3H773.2V300.7H759.8ZM782.2 285.1H795.6V298.5H782.2ZM803.9 283.8H817.3V297.2H803.9ZM826.3 283.3H839.7V296.7H826.3ZM848.8 282.5H862.2V295.9H848.8ZM870.8 281.9H884.2V295.3H870.8ZM892.1 281.3H905.5V294.7H892.1ZM913.8 280.9H927.2V294.3H913.8ZM935.3 280.6H948.7V294.0H935.3ZM957.1 280.3H970.5V293.7H957.1ZM978.6 280.1H992.0V293.5H978.6ZM1000.0 279.9H1013.4V293.3H1000.0ZM1021.5 279.8H1034.9V293.2H1021.5ZM1043.0 279.7H1056.4V293.1H1043.0ZM1082.7 278.9H1096.1V292.3H1082.7ZM1119.2 278.9H1132.6V292.3H1119.2ZM1150.7 278.9H1164.1V292.3H1150.7ZM1179.6 278.9H1193.0V292.3H1179.6ZM1206.0 278.9H1219.4V292.3H1206.0ZM1230.7 278.9H1244.1V292.3H1230.7ZM1253.6 278.9H1267.0V292.3H1253.6ZM1274.9 278.9H1288.3V292.3H1274.9ZM1294.5 278.9H1307.9V292.3H1294.5ZM1314.0 278.9H1327.4V292.3H1314.0ZM1331.9 278.9H1345.3V292.3H1331.9Z" stroke="#2a2a2a" stroke-width="1.9" fill="none"/>
<path d="M83.5 789.5L92.5 798.5L83.5 807.5L74.5 798.5ZM121.6 731.8L130.6 740.8L121.6 749.8L112.6 740.8ZM159.3 686.3L168.3 695.3L159.3 704.3L150.3 695.3ZM193.3 647.5L202.3 656.5L193.3 665.5L184.3 656.5ZM227.0 617.2L236.0 626.2L227.0 635.2L218.0 626.2ZM259.1 591.5L268.1 600.5L259.1 609.5L250.1 600.5ZM290.5 570.5L299.5 579.5L290.5 588.5L281.5 579.5ZM319.8 552.0L328.8 561.0L319.8 570.0L310.8 561.0ZM348.9 536.3L357.9 545.3L348.9 554.3L339.9 545.3ZM376.8 524.2L385.8 533.2L376.8 542.2L367.8 533.2ZM403.5 512.7L412.5 521.7L403.5 530.7L394.5 521.7ZM431.4 502.3L440.4 511.3L431.4 520.3L422.4 511.3ZM456.6 493.0L465.6 502.0L456.6 511.0L447.6 502.0ZM483.2 482.2L492.2 491.2L483.2 500.2L474.2 491.2ZM508.2 472.4L517.2 481.4L508.2 490.4L499.2 481.4ZM533.5 460.7L542.5 469.7L533.5 478.7L524.5 469.7ZM557.5 446.7L566.5 455.7L557.5 464.7L548.5 455.7ZM581.4 428.5L590.4 437.5L581.4 446.5L572.4 437.5ZM605.9 407.9L614.9 416.9L605.9 425.9L596.9 416.9ZM629.2 386.2L638.2 395.2L629.2 404.2L620.2 395.2ZM652.4 365.3L661.4 374.3L652.4 383.3L643.4 374.3ZM675.7 345.5L684.7 354.5L675.7 363.5L666.7 354.5ZM698.8 329.7L707.8 338.7L698.8 347.7L689.8 338.7ZM721.6 317.5L730.6 326.5L721.6 335.5L712.6 326.5ZM744.3 307.5L753.3 316.5L744.3 325.5L735.3 316.5ZM766.5 299.5L775.5 308.5L766.5 317.5L757.5 308.5ZM788.9 294.0L797.9 303.0L788.9 312.0L779.9 303.0ZM810.6 290.5L819.6 299.5L810.6 308.5L801.6 299.5ZM833.0 287.0L842.0 296.0L833.0 305.0L824.0 296.0ZM855.5 284.0L864.5 293.0L855.5 302.0L846.5 293.0ZM877.5 281.5L886.5 290.5L877.5 299.5L868.5 290.5ZM898.8 280.5L907.8 289.5L898.8 298.5L889.8 289.5ZM920.5 279.7L929.5 288.7L920.5 297.7L911.5 288.7ZM942.0 279.2L951.0 288.2L942.0 297.2L933.0 288.2ZM963.8 278.8L972.8 287.8L963.8 296.8L954.8 287.8ZM985.3 278.4L994.3 287.4L985.3 296.4L976.3 287.4ZM1006.7 278.1L1015.7 287.1L1006.7 296.1L997.7 287.1ZM1028.2 277.8L1037.2 286.8L1028.2 295.8L1019.2 286.8ZM1049.7 277.6L1058.7 286.6L1049.7 295.6L1040.7 286.6ZM1089.4 276.6L1098.4 285.6L1089.4 294.6L1080.4 285.6ZM1125.9 276.6L1134.9 285.6L1125.9 294.6L1116.9 285.6ZM1157.4 276.6L1166.4 285.6L1157.4 294.6L1148.4 285.6ZM1186.3 276.6L1195.3 285.6L1186.3 294.6L1177.3 285.6ZM1212.7 276.6L1221.7 285.6L1212.7 294.6L1203.7 285.6ZM1237.4 276.6L1246.4 285.6L1237.4 294.6L1228.4 285.6ZM1260.3 276.6L1269.3 285.6L1260.3 294.6L1251.3 285.6ZM1281.6 276.6L1290.6 285.6L1281.6 294.6L1272.6 285.6ZM1301.2 276.6L1310.2 285.6L1301.2 294.6L1292.2 285.6ZM1320.7 276.6L1329.7 285.6L1320.7 294.6L1311.7 285.6ZM1338.6 276.6L1347.6 285.6L1338.6 294.6L1329.6 285.6Z" stroke="#2a2a2a" stroke-width="1.9" fill="none"/>
<path d="M76.3 881.7a7.2 7.2 0 1 0 14.4 0a7.2 7.2 0 1 0 -14.4 0ZM114.4 816.3a7.2 7.2 0 1 0 14.4 0a7.2 7.2 0 1 0 -14.4 0ZM152.1 762.0a7.2 7.2 0 1 0 14.4 0a7.2 7.2 0 1 0 -14.4 0ZM186.1 716.4a7.2 7.2 0 1 0 14.4 0a7.2 7.2 0 1 0 -14.4 0ZM219.8 679.7a7.2 7.2 0 1 0 14.4 0a7.2 7.2 0 1 0 -14.4 0ZM251.9 648.4a7.2 7.2 0 1 0 14.4 0a7.2 7.2 0 1 0 -14.4 0ZM283.3 622.6a7.2 7.2 0 1 0 14.4 0a7.2 7.2 0 1 0 -14.4 0ZM312.6 601.1a7.2 7.2 0 1 0 14.4 0a7.2 7.2 0 1 0 -14.4 0ZM341.7 582.9a7.2 7.2 0 1 0 14.4 0a7.2 7.2 0 1 0 -14.4 0ZM369.6 566.7a7.2 7.2 0 1 0 14.4 0a7.2 7.2 0 1 0 -14.4 0ZM396.3 553.8a7.2 7.2 0 1 0 14.4 0a7.2 7.2 0 1 0 -14.4 0ZM424.2 541.7a7.2 7.2 0 1 0 14.4 0a7.2 7.2 0 1 0 -14.4 0ZM449.4 531.0a7.2 7.2 0 1 0 14.4 0a7.2 7.2 0 1 0 -14.4 0ZM476.0 520.4a7.2 7.2 0 1 0 14.4 0a7.2 7.2 0 1 0 -14.4 0ZM501.0 509.9a7.2 7.2 0 1 0 14.4 0a7.2 7.2 0 1 0 -14.4 0ZM526.3 500.1a7.2 7.2 0 1 0 14.4 0a7.2 7.2 0 1 0 -14.4 0ZM550.3 488.9a7.2 7.2 0 1 0 14.4 0a7.2 7.2 0 1 0 -14.4 0ZM574.2 474.9a7.2 7.2 0 1 0 14.4 0a7.2 7.2 0 1 0 -14.4 0ZM598.7 457.3a7.2 7.2 0 1 0 14.4 0a7.2 7.2 0 1 0 -14.4 0ZM622.0 437.2a7.2 7.2 0 1 0 14.4 0a7.2 7.2 0 1 0 -14.4 0ZM645.2 414.6a7.2 7.2 0 1 0 14.4 0a7.2 7.2 0 1 0 -14.4 0ZM668.5 391.9a7.2 7.2 0 1 0 14.4 0a7.2 7.2 0 1 0 -14.4 0ZM691.6 370.5a7.2 7.2 0 1 0 14.4 0a7.2 7.2 0 1 0 -14.4 0ZM714.4 352.0a7.2 7.2 0 1 0 14.4 0a7.2 7.2 0 1 0 -14.4 0ZM737.1 337.5a7.2 7.2 0 1 0 14.4 0a7.2 7.2 0 1 0 -14.4 0ZM759.3 326.0a7.2 7.2 0 1 0 14.4 0a7.2 7.2 0 1 0 -14.4 0ZM781.7 316.5a7.2 7.2 0 1 0 14.4 0a7.2 7.2 0 1 0 -14.4 0ZM803.4 309.5a7.2 7.2 0 1 0 14.4 0a7.2 7.2 0 1 0 -14.4 0ZM825.8 304.0a7.2 7.2 0 1 0 14.4 0a7.2 7.2 0 1 0 -14.4 0ZM848.3 300.0a7.2 7.2 0 1 0 14.4 0a7.2 7.2 0 1 0 -14.4 0ZM870.3 297.0a7.2 7.2 0 1 0 14.4 0a7.2 7.2 0 1 0 -14.4 0ZM891.6 294.5a7.2 7.2 0 1 0 14.4 0a7.2 7.2 0 1 0 -14.4 0ZM913.3 293.0a7.2 7.2 0 1 0 14.4 0a7.2 7.2 0 1 0 -14.4 0ZM934.8 291.5a7.2 7.2 0 1 0 14.4 0a7.2 7.2 0 1 0 -14.4 0ZM956.6 290.5a7.2 7.2 0 1 0 14.4 0a7.2 7.2 0 1 0 -14.4 0ZM978.1 289.5a7.2 7.2 0 1 0 14.4 0a7.2 7.2 0 1 0 -14.4 0ZM999.5 288.7a7.2 7.2 0 1 0 14.4 0a7.2 7.2 0 1 0 -14.4 0ZM1021.0 288.0a7.2 7.2 0 1 0 14.4 0a7.2 7.2 0 1 0 -14.4 0ZM1042.5 287.5a7.2 7.2 0 1 0 14.4 0a7.2 7.2 0 1 0 -14.4 0ZM1082.2 285.6a7.2 7.2 0 1 0 14.4 0a7.2 7.2 0 1 0 -14.4 0ZM1118.7 285.6a7.2 7.2 0 1 0 14.4 0a7.2 7.2 0 1 0 -14.4 0ZM1150.2 285.6a7.2 7.2 0 1 0 14.4 0a7.2 7.2 0 1 0 -14.4 0ZM1179.1 285.6a7.2 7.2 0 1 0 14.4 0a7.2 7.2 0 1 0 -14.4 0ZM1205.5 285.6a7.2 7.2 0 1 0 14.4 0a7.2 7.2 0 1 0 -14.4 0ZM1230.2 285.6a7.2 7.2 0 1 0 14.4 0a7.2 7.2 0 1 0 -14.4 0ZM1253.1 285.6a7.2 7.2 0 1 0 14.4 0a7.2 7.2 0 1 0 -14.4 0ZM1274.4 285.6a7.2 7.2 0 1 0 14.4 0a7.2 7.2 0 1 0 -14.4 0ZM1294.0 285.6a7.2 7.2 0 1 0 14.4 0a7.2 7.2 0 1 0 -14.4 0ZM1313.5 285.6a7.2 7.2 0 1 0 14.4 0a7.2 7.2 0 1 0 -14.4 0ZM1331.4 285.6a7.2 7.2 0 1 0 14.4 0a7.2 7.2 0 1 0 -14.4 0Z" stroke="#2a2a2a" stroke-width="1.9" fill="none"/>
<path d="M83.5 948.0L83.5 937.5M83.5 948.0L73.5 944.8M83.5 948.0L77.3 956.5M83.5 948.0L89.7 956.5M83.5 948.0L93.5 944.8M121.6 875.2L121.6 864.7M121.6 875.2L111.6 872.0M121.6 875.2L115.4 883.7M121.6 875.2L127.8 883.7M121.6 875.2L131.6 872.0M159.3 815.3L159.3 804.8M159.3 815.3L149.3 812.1M159.3 815.3L153.1 823.8M159.3 815.3L165.5 823.8M159.3 815.3L169.3 812.1M193.3 763.6L193.3 753.1M193.3 763.6L183.3 760.4M193.3 763.6L187.1 772.1M193.3 763.6L199.5 772.1M193.3 763.6L203.3 760.4M227.0 721.8L227.0 711.3M227.0 721.8L217.0 718.6M227.0 721.8L220.8 730.3M227.0 721.8L233.2 730.3M227.0 721.8L237.0 718.6M259.1 687.2L259.1 676.7M259.1 687.2L249.1 684.0M259.1 687.2L252.9 695.7M259.1 687.2L265.3 695.7M259.1 687.2L269.1 684.0M290.5 659.2L290.5 648.7M290.5 659.2L280.5 656.0M290.5 659.2L284.3 667.7M290.5 659.2L296.7 667.7M290.5 659.2L300.5 656.0M319.8 632.7L319.8 622.2M319.8 632.7L309.8 629.5M319.8 632.7L313.6 641.2M319.8 632.7L326.0 641.2M319.8 632.7L329.8 629.5M348.9 610.8L348.9 600.3M348.9 610.8L338.9 607.6M348.9 610.8L342.7 619.3M348.9 610.8L355.1 619.3M348.9 610.8L358.9 607.6M376.8 593.8L376.8 583.3M376.8 593.8L366.8 590.6M376.8 593.8L370.6 602.3M376.8 593.8L383.0 602.3M376.8 593.8L386.8 590.6M403.5 578.5L403.5 568.0M403.5 578.5L393.5 575.3M403.5 578.5L397.3 587.0M403.5 578.5L409.7 587.0M403.5 578.5L413.5 575.3M431.4 564.7L431.4 554.2M431.4 564.7L421.4 561.5M431.4 564.7L425.2 573.2M431.4 564.7L437.6 573.2M431.4 564.7L441.4 561.5M456.6 552.9L456.6 542.4M456.6 552.9L446.6 549.7M456.6 552.9L450.4 561.4M456.6 552.9L462.8 561.4M456.6 552.9L466.6 549.7M483.2 542.6L483.2 532.1M483.2 542.6L473.2 539.4M483.2 542.6L477.0 551.1M483.2 542.6L489.4 551.1M483.2 542.6L493.2 539.4M508.2 533.3L508.2 522.8M508.2 533.3L498.2 530.1M508.2 533.3L502.0 541.8M508.2 533.3L514.4 541.8M508.2 533.3L518.2 530.1M533.5 523.5L533.5 513.0M533.5 523.5L523.5 520.3M533.5 523.5L527.3 532.0M533.5 523.5L539.7 532.0M533.5 523.5L543.5 520.3M557.5 512.2L557.5 501.7M557.5 512.2L547.5 509.0M557.5 512.2L551.3 520.7M557.5 512.2L563.7 520.7M557.5 512.2L567.5 509.0M581.4 499.4L581.4 488.9M581.4 499.4L571.4 496.2M581.4 499.4L575.2 507.9M581.4 499.4L587.6 507.9M581.4 499.4L591.4 496.2M605.9 483.0L605.9 472.5M605.9 483.0L595.9 479.8M605.9 483.0L599.7 491.5M605.9 483.0L612.1 491.5M605.9 483.0L615.9 479.8M629.2 465.9L629.2 455.4M629.2 465.9L619.2 462.7M629.2 465.9L623.0 474.4M629.2 465.9L635.4 474.4M629.2 465.9L639.2 462.7M652.4 444.6L652.4 434.1M652.4 444.6L642.4 441.4M652.4 444.6L646.2 453.1M652.4 444.6L658.6 453.1M652.4 444.6L662.4 441.4M675.7 420.8L675.7 410.3M675.7 420.8L665.7 417.6M675.7 420.8L669.5 429.3M675.7 420.8L681.9 429.3M675.7 420.8L685.7 417.6M698.8 397.0L698.8 386.5M698.8 397.0L688.8 393.8M698.8 397.0L692.6 405.5M698.8 397.0L705.0 405.5M698.8 397.0L708.8 393.8M721.6 376.2L721.6 365.7M721.6 376.2L711.6 373.0M721.6 376.2L715.4 384.7M721.6 376.2L727.8 384.7M721.6 376.2L731.6 373.0M744.3 357.0L744.3 346.5M744.3 357.0L734.3 353.8M744.3 357.0L738.1 365.5M744.3 357.0L750.5 365.5M744.3 357.0L754.3 353.8M766.5 341.0L766.5 330.5M766.5 341.0L756.5 337.8M766.5 341.0L760.3 349.5M766.5 341.0L772.7 349.5M766.5 341.0L776.5 337.8M788.9 327.5L788.9 317.0M788.9 327.5L778.9 324.3M788.9 327.5L782.7 336.0M788.9 327.5L795.1 336.0M788.9 327.5L798.9 324.3M810.6 316.5L810.6 306.0M810.6 316.5L800.6 313.3M810.6 316.5L804.4 325.0M810.6 316.5L816.8 325.0M810.6 316.5L820.6 313.3M833.0 308.5L833.0 298.0M833.0 308.5L823.0 305.3M833.0 308.5L826.8 317.0M833.0 308.5L839.2 317.0M833.0 308.5L843.0 305.3M855.5 302.5L855.5 292.0M855.5 302.5L845.5 299.3M855.5 302.5L849.3 311.0M855.5 302.5L861.7 311.0M855.5 302.5L865.5 299.3M877.5 300.0L877.5 289.5M877.5 300.0L867.5 296.8M877.5 300.0L871.3 308.5M877.5 300.0L883.7 308.5M877.5 300.0L887.5 296.8M898.8 297.0L898.8 286.5M898.8 297.0L888.8 293.8M898.8 297.0L892.6 305.5M898.8 297.0L905.0 305.5M898.8 297.0L908.8 293.8M920.5 295.0L920.5 284.5M920.5 295.0L910.5 291.8M920.5 295.0L914.3 303.5M920.5 295.0L926.7 303.5M920.5 295.0L930.5 291.8M942.0 293.0L942.0 282.5M942.0 293.0L932.0 289.8M942.0 293.0L935.8 301.5M942.0 293.0L948.2 301.5M942.0 293.0L952.0 289.8M963.8 291.5L963.8 281.0M963.8 291.5L953.8 288.3M963.8 291.5L957.6 300.0M963.8 291.5L970.0 300.0M963.8 291.5L973.8 288.3M985.3 290.5L985.3 280.0M985.3 290.5L975.3 287.3M985.3 290.5L979.1 299.0M985.3 290.5L991.5 299.0M985.3 290.5L995.3 287.3M1006.7 289.5L1006.7 279.0M1006.7 289.5L996.7 286.3M1006.7 289.5L1000.5 298.0M1006.7 289.5L1012.9 298.0M1006.7 289.5L1016.7 286.3M1028.2 288.7L1028.2 278.2M1028.2 288.7L1018.2 285.5M1028.2 288.7L1022.0 297.2M1028.2 288.7L1034.4 297.2M1028.2 288.7L1038.2 285.5M1049.7 288.0L1049.7 277.5M1049.7 288.0L1039.7 284.8M1049.7 288.0L1043.5 296.5M1049.7 288.0L1055.9 296.5M1049.7 288.0L1059.7 284.8M1089.4 285.6L1089.4 275.1M1089.4 285.6L1079.4 282.4M1089.4 285.6L1083.2 294.1M1089.4 285.6L1095.6 294.1M1089.4 285.6L1099.4 282.4M1125.9 285.6L1125.9 275.1M1125.9 285.6L1115.9 282.4M1125.9 285.6L1119.7 294.1M1125.9 285.6L1132.1 294.1M1125.9 285.6L1135.9 282.4M1157.4 285.6L1157.4 275.1M1157.4 285.6L1147.4 282.4M1157.4 285.6L1151.2 294.1M1157.4 285.6L1163.6 294.1M1157.4 285.6L1167.4 282.4M1186.3 285.6L1186.3 275.1M1186.3 285.6L1176.3 282.4M1186.3 285.6L1180.1 294.1M1186.3 285.6L1192.5 294.1M1186.3 285.6L1196.3 282.4M1212.7 285.6L1212.7 275.1M1212.7 285.6L1202.7 282.4M1212.7 285.6L1206.5 294.1M1212.7 285.6L1218.9 294.1M1212.7 285.6L1222.7 282.4M1237.4 285.6L1237.4 275.1M1237.4 285.6L1227.4 282.4M1237.4 285.6L1231.2 294.1M1237.4 285.6L1243.6 294.1M1237.4 285.6L1247.4 282.4M1260.3 285.6L1260.3 275.1M1260.3 285.6L1250.3 282.4M1260.3 285.6L1254.1 294.1M1260.3 285.6L1266.5 294.1M1260.3 285.6L1270.3 282.4M1281.6 285.6L1281.6 275.1M1281.6 285.6L1271.6 282.4M1281.6 285.6L1275.4 294.1M1281.6 285.6L1287.8 294.1M1281.6 285.6L1291.6 282.4M1301.2 285.6L1301.2 275.1M1301.2 285.6L1291.2 282.4M1301.2 285.6L1295.0 294.1M1301.2 285.6L1307.4 294.1M1301.2 285.6L1311.2 282.4M1320.7 285.6L1320.7 275.1M1320.7 285.6L1310.7 282.4M1320.7 285.6L1314.5 294.1M1320.7 285.6L1326.9 294.1M1320.7 285.6L1330.7 282.4M1338.6 285.6L1338.6 275.1M1338.6 285.6L1328.6 282.4M1338.6 285.6L1332.4 294.1M1338.6 285.6L1344.8 294.1M1338.6 285.6L1348.6 282.4" stroke="#2a2a2a" stroke-width="1.8" fill="none"/>
<path d="M73.5 1004.9H93.5M83.5 994.9V1014.9M111.6 927.0H131.6M121.6 917.0V937.0M149.3 860.6H169.3M159.3 850.6V870.6M183.3 804.7H203.3M193.3 794.7V814.7M217.0 759.3H237.0M227.0 749.3V769.3M249.1 720.5H269.1M259.1 710.5V730.5M280.5 688.9H300.5M290.5 678.9V698.9M309.8 660.6H329.8M319.8 650.6V670.6M338.9 637.5H358.9M348.9 627.5V647.5M366.8 618.1H386.8M376.8 608.1V628.1M393.5 601.1H413.5M403.5 591.1V611.1M421.4 586.0H441.4M431.4 576.0V596.0M446.6 572.5H466.6M456.6 562.5V582.5M473.2 561.3H493.2M483.2 551.3V571.3M498.2 549.6H518.2M508.2 539.6V559.6M523.5 540.3H543.5M533.5 530.3V550.3M547.5 529.8H567.5M557.5 519.8V539.8M571.4 518.1H591.4M581.4 508.1V528.1M595.9 505.2H615.9M605.9 495.2V515.2M619.2 488.5H639.2M629.2 478.5V498.5M642.4 469.4H662.4M652.4 459.4V479.4M665.7 446.7H685.7M675.7 436.7V456.7M688.8 422.9H708.8M698.8 412.9V432.9M711.6 399.1H731.6M721.6 389.1V409.1M734.3 377.4H754.3M744.3 367.4V387.4M756.5 358.0H776.5M766.5 348.0V368.0M778.9 340.5H798.9M788.9 330.5V350.5M800.6 327.0H820.6M810.6 317.0V337.0M823.0 318.0H843.0M833.0 308.0V328.0M845.5 311.0H865.5M855.5 301.0V321.0M867.5 304.5H887.5M877.5 294.5V314.5M888.8 300.0H908.8M898.8 290.0V310.0M910.5 296.5H930.5M920.5 286.5V306.5M932.0 294.5H952.0M942.0 284.5V304.5M953.8 292.5H973.8M963.8 282.5V302.5M975.3 291.0H995.3M985.3 281.0V301.0M996.7 289.5H1016.7M1006.7 279.5V299.5M1018.2 288.5H1038.2M1028.2 278.5V298.5M1039.7 287.8H1059.7M1049.7 277.8V297.8M1079.4 285.6H1099.4M1089.4 275.6V295.6M1115.9 285.6H1135.9M1125.9 275.6V295.6M1147.4 285.6H1167.4M1157.4 275.6V295.6M1176.3 285.6H1196.3M1186.3 275.6V295.6M1202.7 285.6H1222.7M1212.7 275.6V295.6M1227.4 285.6H1247.4M1237.4 275.6V295.6M1250.3 285.6H1270.3M1260.3 275.6V295.6M1271.6 285.6H1291.6M1281.6 275.6V295.6M1291.2 285.6H1311.2M1301.2 275.6V295.6M1310.7 285.6H1330.7M1320.7 275.6V295.6M1328.6 285.6H1348.6M1338.6 275.6V295.6" stroke="#2a2a2a" stroke-width="1.9" fill="none"/>
<path d="M82.2 605.2L1338 86.9 M82.2 662.0L1338 122.1 M82.2 692.2L1338 153.2 M82.2 717.4L1338 173.3 M82.2 734.7L1338 192.2" stroke="#e6202a" stroke-width="2.2" fill="none"/>
<text x="800.5" y="71.3" font-size="40" text-anchor="middle" fill="#111">n=7</text>
<text x="1445" y="560" font-size="40" letter-spacing="0.9" fill="#1a1a1a">lg (ψ)</text>
<rect x="57.9" y="1024.6" width="1483" height="45" fill="none" stroke="#666" stroke-width="2.2"/>
<path d="M86.7 1047.3H106.3M96.5 1037.5V1057.1" stroke="#2a2a2a" stroke-width="2" fill="none"/>
<path d="M304.6 1047.3L304.6 1037.1M304.6 1047.3L294.9 1044.1M304.6 1047.3L298.6 1055.6M304.6 1047.3L310.6 1055.6M304.6 1047.3L314.3 1044.1" stroke="#2a2a2a" stroke-width="1.9" fill="none"/>
<path d="M489.0 1047.3a7 7 0 1 0 14 0a7 7 0 1 0 -14 0Z" stroke="#2a2a2a" stroke-width="2" fill="none"/>
<path d="M686.3 1038.7L694.9 1047.3L686.3 1055.9L677.7 1047.3Z" stroke="#2a2a2a" stroke-width="2" fill="none"/>
<path d="M869.9 1040.3H883.9V1054.3H869.9Z" stroke="#2a2a2a" stroke-width="2" fill="none"/>
<path d="M1036 1045.3H1097" stroke="#e6202a" stroke-width="2.6"/>
<text x="135.5" y="1060.3" font-size="32" letter-spacing="1.07" fill="#1e1e1e">10 000 ч.</text>
<text x="345" y="1060.3" font-size="32" letter-spacing="1.07" fill="#1e1e1e">8 000 ч.</text>
<text x="535.8" y="1060.3" font-size="32" letter-spacing="1.07" fill="#1e1e1e">6 000 ч.</text>
<text x="725.8" y="1060.3" font-size="32" letter-spacing="1.07" fill="#1e1e1e">4 000 ч.</text>
<text x="916.4" y="1060.3" font-size="32" letter-spacing="1.07" fill="#1e1e1e">2 000 ч.</text>
<text x="1106" y="1060.3" font-size="32" letter-spacing="1.07" fill="#1e1e1e">Асимптотика: 0.0152...0.0159</text>
</svg></body></html>
